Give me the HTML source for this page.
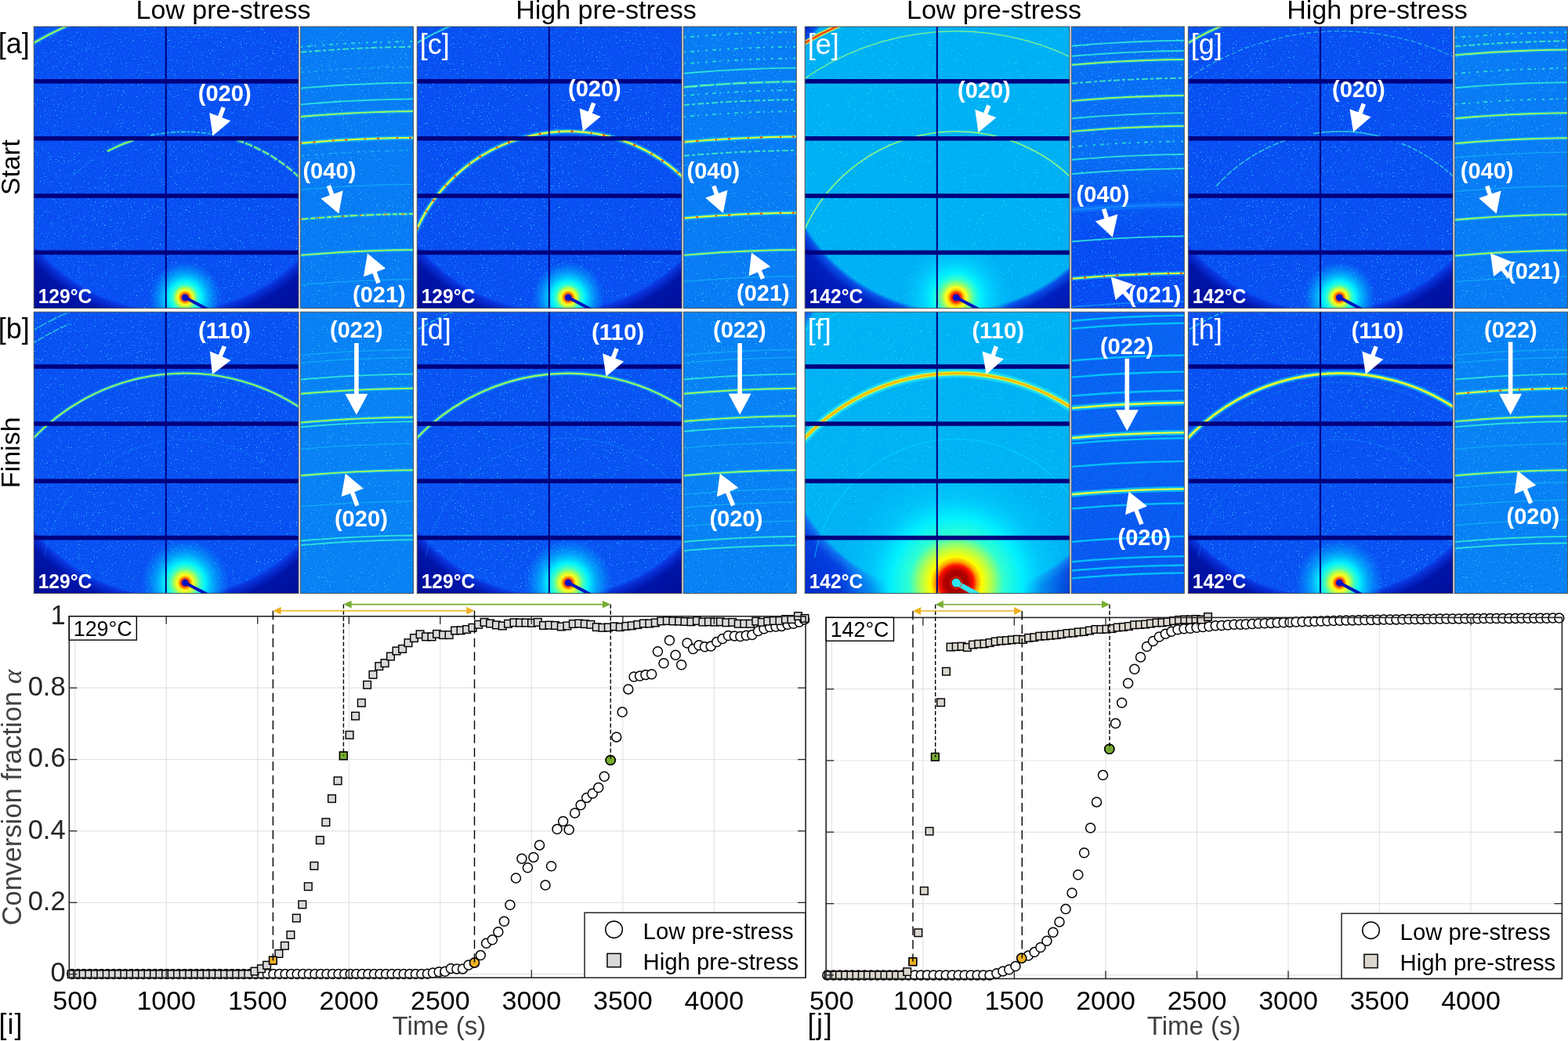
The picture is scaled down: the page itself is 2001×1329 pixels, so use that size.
<!DOCTYPE html><html><head><meta charset="utf-8"><style>html,body{margin:0;padding:0;background:#fff;overflow:hidden}svg{display:block}</style></head><body>
<svg xmlns="http://www.w3.org/2000/svg" width="2001" height="1329" viewBox="0 0 2001 1329" font-family="'Liberation Sans', Arial, sans-serif">
<defs><filter id="mottle" x="0" y="0" width="100%" height="100%" filterUnits="objectBoundingBox"><feTurbulence type="fractalNoise" baseFrequency="0.55" numOctaves="1" seed="3" result="t"/><feColorMatrix in="t" type="matrix" values="0 0 0 0 0.0  0 0 0 0 0.75  0 0 0 0 1  1.6 0 0 0 -0.65"/></filter>
<filter id="noise" x="0" y="0" width="100%" height="100%" filterUnits="objectBoundingBox"><feTurbulence type="fractalNoise" baseFrequency="0.7" numOctaves="2" seed="7" result="t"/><feColorMatrix in="t" type="matrix" values="0 0 0 0 0.05  0 0 0 0 0.82  0 0 0 0 1  18 0 0 0 -13.0"/></filter>
<clipPath id="cba"><rect x="43.2" y="34.0" width="337.8" height="359.4"/></clipPath>
<radialGradient id="gaa" gradientUnits="userSpaceOnUse" cx="220.5" cy="170.6" r="300"><stop offset="0" stop-color="#0a48f2"/><stop offset="0.7533" stop-color="#0a48f2"/><stop offset="0.7700" stop-color="#0830d8"/><stop offset="0.8067" stop-color="#0014a8"/><stop offset="1" stop-color="#000a8c"/></radialGradient>
<radialGradient id="gha" gradientUnits="userSpaceOnUse" cx="236.2" cy="379.8" r="46"><stop offset="0.000" stop-color="#ff6000" stop-opacity="1"/><stop offset="0.120" stop-color="#ff6000" stop-opacity="1"/><stop offset="0.152" stop-color="#ffb000" stop-opacity="1"/><stop offset="0.196" stop-color="#ffff20" stop-opacity="1"/><stop offset="0.261" stop-color="#b0ff50" stop-opacity="1"/><stop offset="0.348" stop-color="#30ffd0" stop-opacity="1"/><stop offset="0.457" stop-color="#00f0ff" stop-opacity="1"/><stop offset="0.652" stop-color="#00c8ff" stop-opacity="0.7"/><stop offset="1.000" stop-color="#00a0ff" stop-opacity="0"/></radialGradient>
<clipPath id="cca"><circle cx="220.5" cy="170.6" r="227"/></clipPath>
<clipPath id="cna"><rect x="383.3" y="34.0" width="144.1" height="359.4"/></clipPath>
<clipPath id="cbc"><rect x="532.2" y="34.0" width="337.8" height="359.4"/></clipPath>
<radialGradient id="gac" gradientUnits="userSpaceOnUse" cx="709.5" cy="170.6" r="300"><stop offset="0" stop-color="#0a48f2"/><stop offset="0.7533" stop-color="#0a48f2"/><stop offset="0.7700" stop-color="#0830d8"/><stop offset="0.8067" stop-color="#0014a8"/><stop offset="1" stop-color="#000a8c"/></radialGradient>
<radialGradient id="ghc" gradientUnits="userSpaceOnUse" cx="725.2" cy="379.8" r="46"><stop offset="0.000" stop-color="#ff6000" stop-opacity="1"/><stop offset="0.120" stop-color="#ff6000" stop-opacity="1"/><stop offset="0.152" stop-color="#ffb000" stop-opacity="1"/><stop offset="0.196" stop-color="#ffff20" stop-opacity="1"/><stop offset="0.261" stop-color="#b0ff50" stop-opacity="1"/><stop offset="0.348" stop-color="#30ffd0" stop-opacity="1"/><stop offset="0.457" stop-color="#00f0ff" stop-opacity="1"/><stop offset="0.652" stop-color="#00c8ff" stop-opacity="0.7"/><stop offset="1.000" stop-color="#00a0ff" stop-opacity="0"/></radialGradient>
<clipPath id="ccc"><circle cx="709.5" cy="170.6" r="227"/></clipPath>
<clipPath id="cnc"><rect x="872.2" y="34.0" width="144.1" height="359.4"/></clipPath>
<clipPath id="cbe"><rect x="1027.2" y="34.0" width="337.8" height="359.4"/></clipPath>
<radialGradient id="gae" gradientUnits="userSpaceOnUse" cx="1217.4" cy="175.3" r="294.5"><stop offset="0" stop-color="#00aef4"/><stop offset="0.7487" stop-color="#00aef4"/><stop offset="0.7657" stop-color="#0850e8"/><stop offset="0.8031" stop-color="#0020c0"/><stop offset="1" stop-color="#000c98"/></radialGradient>
<radialGradient id="ghe" gradientUnits="userSpaceOnUse" cx="1220.2" cy="379.8" r="70"><stop offset="0.000" stop-color="#ff1000" stop-opacity="1"/><stop offset="0.071" stop-color="#ff1000" stop-opacity="1"/><stop offset="0.107" stop-color="#ff6000" stop-opacity="1"/><stop offset="0.143" stop-color="#ffd000" stop-opacity="1"/><stop offset="0.186" stop-color="#ffff20" stop-opacity="1"/><stop offset="0.243" stop-color="#a0ff60" stop-opacity="1"/><stop offset="0.343" stop-color="#30ffd0" stop-opacity="1"/><stop offset="0.457" stop-color="#00f0ff" stop-opacity="1"/><stop offset="0.643" stop-color="#00d8ff" stop-opacity="0.7"/><stop offset="1.000" stop-color="#00c0ff" stop-opacity="0"/></radialGradient>
<clipPath id="cce"><circle cx="1217.4" cy="175.3" r="221.5"/></clipPath>
<clipPath id="cne"><rect x="1367.2" y="34.0" width="144.1" height="359.4"/></clipPath>
<linearGradient id="gne" x1="0" y1="0" x2="0" y2="1"><stop offset="0" stop-color="#0a68f4"/><stop offset="0.45" stop-color="#0a68f4"/><stop offset="0.75" stop-color="#0844f2"/><stop offset="1" stop-color="#0844f2"/></linearGradient>
<clipPath id="cbg"><rect x="1516.3" y="34.0" width="337.8" height="359.4"/></clipPath>
<radialGradient id="gag" gradientUnits="userSpaceOnUse" cx="1693.6" cy="170.6" r="300"><stop offset="0" stop-color="#0a48f2"/><stop offset="0.7533" stop-color="#0a48f2"/><stop offset="0.7700" stop-color="#0830d8"/><stop offset="0.8067" stop-color="#0014a8"/><stop offset="1" stop-color="#000a8c"/></radialGradient>
<radialGradient id="ghg" gradientUnits="userSpaceOnUse" cx="1709.3" cy="379.8" r="46"><stop offset="0.000" stop-color="#ff6000" stop-opacity="1"/><stop offset="0.120" stop-color="#ff6000" stop-opacity="1"/><stop offset="0.152" stop-color="#ffb000" stop-opacity="1"/><stop offset="0.196" stop-color="#ffff20" stop-opacity="1"/><stop offset="0.261" stop-color="#b0ff50" stop-opacity="1"/><stop offset="0.348" stop-color="#30ffd0" stop-opacity="1"/><stop offset="0.457" stop-color="#00f0ff" stop-opacity="1"/><stop offset="0.652" stop-color="#00c8ff" stop-opacity="0.7"/><stop offset="1.000" stop-color="#00a0ff" stop-opacity="0"/></radialGradient>
<clipPath id="ccg"><circle cx="1693.6" cy="170.6" r="227"/></clipPath>
<clipPath id="cng"><rect x="1856.3" y="34.0" width="144.1" height="359.4"/></clipPath>
<clipPath id="cbb"><rect x="43.2" y="398.2" width="337.8" height="359.4"/></clipPath>
<radialGradient id="gab" gradientUnits="userSpaceOnUse" cx="220.5" cy="534.8" r="300"><stop offset="0" stop-color="#0a4af2"/><stop offset="0.7533" stop-color="#0a4af2"/><stop offset="0.7700" stop-color="#0830d8"/><stop offset="0.8067" stop-color="#0014a8"/><stop offset="1" stop-color="#000a8c"/></radialGradient>
<radialGradient id="ghb" gradientUnits="userSpaceOnUse" cx="236.2" cy="744.0" r="56"><stop offset="0.000" stop-color="#ff4000" stop-opacity="1"/><stop offset="0.098" stop-color="#ff4000" stop-opacity="1"/><stop offset="0.134" stop-color="#ffb000" stop-opacity="1"/><stop offset="0.179" stop-color="#ffff20" stop-opacity="1"/><stop offset="0.250" stop-color="#b0ff50" stop-opacity="1"/><stop offset="0.339" stop-color="#40ffc0" stop-opacity="1"/><stop offset="0.464" stop-color="#00f0ff" stop-opacity="1"/><stop offset="0.643" stop-color="#00c8ff" stop-opacity="0.7"/><stop offset="1.000" stop-color="#00a0ff" stop-opacity="0"/></radialGradient>
<clipPath id="ccb"><circle cx="220.5" cy="534.8" r="227"/></clipPath>
<clipPath id="cnb"><rect x="383.3" y="398.2" width="144.1" height="359.4"/></clipPath>
<clipPath id="cbd"><rect x="532.2" y="398.2" width="337.8" height="359.4"/></clipPath>
<radialGradient id="gad" gradientUnits="userSpaceOnUse" cx="709.5" cy="534.8" r="300"><stop offset="0" stop-color="#0a4cf2"/><stop offset="0.7533" stop-color="#0a4cf2"/><stop offset="0.7700" stop-color="#0830d8"/><stop offset="0.8067" stop-color="#0014a8"/><stop offset="1" stop-color="#000a8c"/></radialGradient>
<radialGradient id="ghd" gradientUnits="userSpaceOnUse" cx="725.2" cy="744.0" r="56"><stop offset="0.000" stop-color="#ff4000" stop-opacity="1"/><stop offset="0.098" stop-color="#ff4000" stop-opacity="1"/><stop offset="0.134" stop-color="#ffb000" stop-opacity="1"/><stop offset="0.179" stop-color="#ffff20" stop-opacity="1"/><stop offset="0.250" stop-color="#b0ff50" stop-opacity="1"/><stop offset="0.339" stop-color="#40ffc0" stop-opacity="1"/><stop offset="0.464" stop-color="#00f0ff" stop-opacity="1"/><stop offset="0.643" stop-color="#00c8ff" stop-opacity="0.7"/><stop offset="1.000" stop-color="#00a0ff" stop-opacity="0"/></radialGradient>
<clipPath id="ccd"><circle cx="709.5" cy="534.8" r="227"/></clipPath>
<clipPath id="cnd"><rect x="872.2" y="398.2" width="144.1" height="359.4"/></clipPath>
<clipPath id="cbf"><rect x="1027.2" y="398.2" width="337.8" height="359.4"/></clipPath>
<radialGradient id="gaf" gradientUnits="userSpaceOnUse" cx="1219.4" cy="535.1" r="298.6"><stop offset="0" stop-color="#00b0f4"/><stop offset="0.7522" stop-color="#00b0f4"/><stop offset="0.7689" stop-color="#1070f0"/><stop offset="0.8058" stop-color="#0440e0"/><stop offset="1" stop-color="#0028c8"/></radialGradient>
<radialGradient id="ghf" gradientUnits="userSpaceOnUse" cx="1220.2" cy="744.0" r="150"><stop offset="0.000" stop-color="#900000" stop-opacity="1"/><stop offset="0.100" stop-color="#b00000" stop-opacity="1"/><stop offset="0.147" stop-color="#ff1000" stop-opacity="1"/><stop offset="0.180" stop-color="#ffa000" stop-opacity="1"/><stop offset="0.220" stop-color="#ffff00" stop-opacity="1"/><stop offset="0.300" stop-color="#b0ff50" stop-opacity="1"/><stop offset="0.400" stop-color="#30ffd0" stop-opacity="1"/><stop offset="0.560" stop-color="#00f0ff" stop-opacity="1"/><stop offset="0.733" stop-color="#00d8ff" stop-opacity="0.5"/><stop offset="1.000" stop-color="#00c8ff" stop-opacity="0"/></radialGradient>
<clipPath id="ccf"><circle cx="1219.4" cy="535.1" r="225.6"/></clipPath>
<clipPath id="cnf"><rect x="1367.2" y="398.2" width="144.1" height="359.4"/></clipPath>
<linearGradient id="gnf" x1="0" y1="0" x2="0" y2="1"><stop offset="0" stop-color="#0a5cf2"/><stop offset="0.45" stop-color="#0a5cf2"/><stop offset="0.75" stop-color="#0a52f0"/><stop offset="1" stop-color="#0a52f0"/></linearGradient>
<clipPath id="cbh"><rect x="1516.3" y="398.2" width="337.8" height="359.4"/></clipPath>
<radialGradient id="gah" gradientUnits="userSpaceOnUse" cx="1693.6" cy="534.8" r="300"><stop offset="0" stop-color="#0a4af2"/><stop offset="0.7533" stop-color="#0a4af2"/><stop offset="0.7700" stop-color="#0830d8"/><stop offset="0.8067" stop-color="#0014a8"/><stop offset="1" stop-color="#000a8c"/></radialGradient>
<radialGradient id="ghh" gradientUnits="userSpaceOnUse" cx="1709.3" cy="744.0" r="56"><stop offset="0.000" stop-color="#ff4000" stop-opacity="1"/><stop offset="0.098" stop-color="#ff4000" stop-opacity="1"/><stop offset="0.134" stop-color="#ffb000" stop-opacity="1"/><stop offset="0.179" stop-color="#ffff20" stop-opacity="1"/><stop offset="0.250" stop-color="#b0ff50" stop-opacity="1"/><stop offset="0.339" stop-color="#40ffc0" stop-opacity="1"/><stop offset="0.464" stop-color="#00f0ff" stop-opacity="1"/><stop offset="0.643" stop-color="#00c8ff" stop-opacity="0.7"/><stop offset="1.000" stop-color="#00a0ff" stop-opacity="0"/></radialGradient>
<clipPath id="cch"><circle cx="1693.6" cy="534.8" r="227"/></clipPath>
<clipPath id="cnh"><rect x="1856.3" y="398.2" width="144.1" height="359.4"/></clipPath></defs>
<rect width="2001" height="1329" fill="#ffffff"/>
<text x="285.0" y="24.4" font-size="34" text-anchor="middle" fill="#000">Low pre-stress</text>
<text x="773.5" y="24.4" font-size="34" text-anchor="middle" fill="#000">High pre-stress</text>
<text x="1268.5" y="24.4" font-size="34" text-anchor="middle" fill="#000">Low pre-stress</text>
<text x="1757.5" y="24.4" font-size="34" text-anchor="middle" fill="#000">High pre-stress</text>
<text x="-2.3" y="67.9" font-size="36" fill="#000">[a]</text>
<text x="-2.3" y="432.3" font-size="36" fill="#000">[b]</text>
<text transform="translate(24.6,213.5) rotate(-90)" font-size="33.5" text-anchor="middle" fill="#000">Start</text>
<text transform="translate(24.6,577.8) rotate(-90)" font-size="34" text-anchor="middle" fill="#000">Finish</text>
<g clip-path="url(#cba)">
<rect x="43.2" y="34.0" width="337.8" height="359.4" fill="url(#gaa)"/>
<g clip-path="url(#cca)"><rect x="43.2" y="34.0" width="337.8" height="359.4" filter="url(#mottle)" opacity="0.35"/><rect x="43.2" y="34.0" width="337.8" height="359.4" filter="url(#noise)" opacity="0.8"/></g>
<circle cx="236.2" cy="379.8" r="46.0" fill="url(#gha)"/>
<path d="M192.2,172.9 A211.5,211.5 0 0 1 272.9,171.5" fill="none" stroke="#30f0d8" stroke-width="1.73" opacity="0.77" stroke-dasharray="6,2,3,2"/>
<path d="M136.9,193.1 A211.5,211.5 0 0 1 170.8,178.7" fill="none" stroke="#00e0ff" stroke-width="4.91" opacity="0.38"/>
<path d="M136.9,193.1 A211.5,211.5 0 0 1 170.8,178.7" fill="none" stroke="#a8ff58" stroke-width="2.07" opacity="0.90"/>
<path d="M301.6,178.7 A211.5,211.5 0 0 1 385.8,230.2" fill="none" stroke="#00e0ff" stroke-width="4.50" opacity="0.36" stroke-dasharray="10,2"/>
<path d="M301.6,178.7 A211.5,211.5 0 0 1 385.8,230.2" fill="none" stroke="#a8ff58" stroke-width="1.90" opacity="0.85" stroke-dasharray="10,2"/>
<path d="M92.0,225.1 A211.5,211.5 0 0 1 117.9,204.5" fill="none" stroke="#18c8f8" stroke-width="1.09" opacity="0.30"/>
<path d="M36.4,104.7 A340,340 0 0 1 390.6,76.9" fill="none" stroke="#18c8f8" stroke-width="0.95" opacity="0.28" stroke-dasharray="5,4"/>
<path d="M35.9,59.2 A378,378 0 0 1 88.5,31.8" fill="none" stroke="#00e0ff" stroke-width="5.32" opacity="0.38"/>
<path d="M35.9,59.2 A378,378 0 0 1 88.5,31.8" fill="none" stroke="#a8ff58" stroke-width="2.25" opacity="0.90"/>
<rect x="43.2" y="101.0" width="337.8" height="5.6" fill="#00007e"/>
<rect x="43.2" y="174.0" width="337.8" height="5.6" fill="#00007e"/>
<rect x="43.2" y="247.2" width="337.8" height="5.6" fill="#00007e"/>
<rect x="43.2" y="319.6" width="337.8" height="5.6" fill="#00007e"/>
<rect x="210.8" y="34.0" width="2" height="359.4" fill="#00007e"/>
<line x1="236.2" y1="379.8" x2="276.2" y2="400.8" stroke="#0014c0" stroke-width="4.0"/>
<circle cx="236.2" cy="379.8" r="4.4" fill="#0014c0"/>
</g>
<rect x="43.2" y="34.0" width="337.8" height="359.4" fill="none" stroke="#404040" stroke-width="0.9"/>
<text x="48.7" y="387.2" font-size="26.5" font-weight="bold" fill="#fff" textLength="68.5" lengthAdjust="spacingAndGlyphs">129°C</text>
<g clip-path="url(#cna)">
<rect x="383.3" y="34.0" width="144.1" height="359.4" fill="#0a76f4"/>
<rect x="383.3" y="34.0" width="144.1" height="359.4" filter="url(#mottle)" opacity="0.35"/>
<rect x="383.3" y="34.0" width="144.1" height="359.4" filter="url(#noise)" opacity="0.8"/>
<polyline points="383.3,59.9 395.3,58.9 407.3,58.0 419.3,57.1 431.3,56.3 443.3,55.6 455.4,55.0 467.4,54.5 479.4,54.0 491.4,53.6 503.4,53.3 515.4,53.1 527.4,52.9" fill="none" stroke="#30f0d0" stroke-width="2.0" opacity="0.75" stroke-dasharray="3,6,5,4,2,8"/>
<polyline points="383.3,66.7 395.3,65.7 407.3,64.8 419.3,63.9 431.3,63.1 443.3,62.4 455.4,61.8 467.4,61.3 479.4,60.8 491.4,60.4 503.4,60.1 515.4,59.9 527.4,59.7" fill="none" stroke="#40f0c0" stroke-width="2.0" opacity="0.85" stroke-dasharray="8,3,4,3"/>
<polyline points="383.3,92.3 395.3,91.3 407.3,90.4 419.3,89.5 431.3,88.7 443.3,88.0 455.4,87.4 467.4,86.9 479.4,86.4 491.4,86.0 503.4,85.7 515.4,85.5 527.4,85.3" fill="none" stroke="#20d0f0" stroke-width="1.7" opacity="0.55" stroke-dasharray="5,4,3,6"/>
<polyline points="383.3,112.6 395.3,111.6 407.3,110.7 419.3,109.8 431.3,109.0 443.3,108.3 455.4,107.7 467.4,107.2 479.4,106.7 491.4,106.3 503.4,106.0 515.4,105.8 527.4,105.6" fill="none" stroke="#30f0d8" stroke-width="1.9" opacity="0.85"/>
<polyline points="383.3,133.4 395.3,132.4 407.3,131.5 419.3,130.6 431.3,129.8 443.3,129.1 455.4,128.5 467.4,128.0 479.4,127.5 491.4,127.1 503.4,126.8 515.4,126.6 527.4,126.4" fill="none" stroke="#30f0d8" stroke-width="1.9" opacity="0.85"/>
<polyline points="383.3,149.0 395.3,148.0 407.3,147.1 419.3,146.2 431.3,145.4 443.3,144.7 455.4,144.1 467.4,143.6 479.4,143.1 491.4,142.7 503.4,142.4 515.4,142.2 527.4,142.0" fill="none" stroke="#00e0ff" stroke-width="4.5" opacity="0.4"/>
<polyline points="383.3,149.0 395.3,148.0 407.3,147.1 419.3,146.2 431.3,145.4 443.3,144.7 455.4,144.1 467.4,143.6 479.4,143.1 491.4,142.7 503.4,142.4 515.4,142.2 527.4,142.0" fill="none" stroke="#a8ff58" stroke-width="1.9" opacity="0.95"/>
<polyline points="383.3,182.8 395.3,181.8 407.3,180.9 419.3,180.0 431.3,179.2 443.3,178.5 455.4,177.9 467.4,177.4 479.4,176.9 491.4,176.5 503.4,176.2 515.4,176.0 527.4,175.8" fill="none" stroke="#00e8ff" stroke-width="5.5" opacity="0.45"/>
<polyline points="383.3,182.8 395.3,181.8 407.3,180.9 419.3,180.0 431.3,179.2 443.3,178.5 455.4,177.9 467.4,177.4 479.4,176.9 491.4,176.5 503.4,176.2 515.4,176.0 527.4,175.8" fill="none" stroke="#d8ff40" stroke-width="2.2" opacity="1.0"/>
<polyline points="383.3,182.8 395.3,181.8 407.3,180.9 419.3,180.0 431.3,179.2 443.3,178.5 455.4,177.9 467.4,177.4 479.4,176.9 491.4,176.5 503.4,176.2 515.4,176.0 527.4,175.8" fill="none" stroke="#ff3a00" stroke-width="2.2" opacity="0.9" stroke-dasharray="2,14,3,22"/>
<polyline points="383.3,199.0 395.3,198.0 407.3,197.1 419.3,196.2 431.3,195.4 443.3,194.7 455.4,194.1 467.4,193.6 479.4,193.1 491.4,192.7 503.4,192.4 515.4,192.2 527.4,192.0" fill="none" stroke="#20d0f0" stroke-width="1.7" opacity="0.55" stroke-dasharray="5,4,3,6"/>
<polyline points="383.3,242.2 395.3,241.2 407.3,240.3 419.3,239.4 431.3,238.6 443.3,237.9 455.4,237.3 467.4,236.8 479.4,236.3 491.4,235.9 503.4,235.6 515.4,235.4 527.4,235.2" fill="none" stroke="#18c8f8" stroke-width="1.5" opacity="0.5"/>
<polyline points="383.3,280.0 395.3,279.0 407.3,278.1 419.3,277.2 431.3,276.4 443.3,275.7 455.4,275.1 467.4,274.6 479.4,274.1 491.4,273.7 503.4,273.4 515.4,273.2 527.4,273.0" fill="none" stroke="#00e0ff" stroke-width="4.5" opacity="0.35"/>
<polyline points="383.3,280.0 395.3,279.0 407.3,278.1 419.3,277.2 431.3,276.4 443.3,275.7 455.4,275.1 467.4,274.6 479.4,274.1 491.4,273.7 503.4,273.4 515.4,273.2 527.4,273.0" fill="none" stroke="#a8ff58" stroke-width="1.9" opacity="0.95" stroke-dasharray="10,3,6,2"/>
<polyline points="383.3,280.0 395.3,279.0 407.3,278.1 419.3,277.2 431.3,276.4 443.3,275.7 455.4,275.1 467.4,274.6 479.4,274.1 491.4,273.7 503.4,273.4 515.4,273.2 527.4,273.0" fill="none" stroke="#ff4000" stroke-width="2.0" opacity="0.8" stroke-dasharray="2,20,2,30"/>
<polyline points="383.3,325.9 395.3,324.9 407.3,324.0 419.3,323.1 431.3,322.3 443.3,321.6 455.4,321.0 467.4,320.5 479.4,320.0 491.4,319.6 503.4,319.3 515.4,319.1 527.4,318.9" fill="none" stroke="#00e0ff" stroke-width="4.5" opacity="0.4"/>
<polyline points="383.3,325.9 395.3,324.9 407.3,324.0 419.3,323.1 431.3,322.3 443.3,321.6 455.4,321.0 467.4,320.5 479.4,320.0 491.4,319.6 503.4,319.3 515.4,319.1 527.4,318.9" fill="none" stroke="#a8ff58" stroke-width="1.9" opacity="0.95"/>
<polyline points="383.3,363.7 395.3,362.7 407.3,361.8 419.3,360.9 431.3,360.1 443.3,359.4 455.4,358.8 467.4,358.3 479.4,357.8 491.4,357.4 503.4,357.1 515.4,356.9 527.4,356.7" fill="none" stroke="#18c8f8" stroke-width="1.5" opacity="0.5"/>
</g>
<rect x="383.3" y="34.0" width="144.1" height="359.4" fill="none" stroke="#404040" stroke-width="0.9"/>
<g clip-path="url(#cbc)">
<rect x="532.2" y="34.0" width="337.8" height="359.4" fill="url(#gac)"/>
<g clip-path="url(#ccc)"><rect x="532.2" y="34.0" width="337.8" height="359.4" filter="url(#mottle)" opacity="0.35"/><rect x="532.2" y="34.0" width="337.8" height="359.4" filter="url(#noise)" opacity="0.8"/></g>
<circle cx="725.2" cy="379.8" r="46.0" fill="url(#ghc)"/>
<path d="M526.0,307.3 A212,212 0 0 1 877.7,232.5" fill="none" stroke="#00e8ff" stroke-width="6.50" opacity="0.45"/>
<path d="M526.0,307.3 A212,212 0 0 1 877.7,232.5" fill="none" stroke="#d8ff40" stroke-width="2.60" opacity="1.00"/>
<path d="M526.0,307.3 A212,212 0 0 1 877.7,232.5" fill="none" stroke="#ff3a00" stroke-width="2.60" opacity="0.90" stroke-dasharray="2,14,3,22"/>
<path d="M524.9,59.2 A378,378 0 0 1 577.5,31.8" fill="none" stroke="#30f0d8" stroke-width="2.25" opacity="0.77"/>
<path d="M525.4,104.7 A340,340 0 0 1 879.6,76.9" fill="none" stroke="#18c8f8" stroke-width="0.95" opacity="0.17" stroke-dasharray="4,9"/>
<rect x="532.2" y="101.0" width="337.8" height="5.6" fill="#00007e"/>
<rect x="532.2" y="174.0" width="337.8" height="5.6" fill="#00007e"/>
<rect x="532.2" y="247.2" width="337.8" height="5.6" fill="#00007e"/>
<rect x="532.2" y="319.6" width="337.8" height="5.6" fill="#00007e"/>
<rect x="699.8" y="34.0" width="2" height="359.4" fill="#00007e"/>
<line x1="725.2" y1="379.8" x2="765.2" y2="400.8" stroke="#0014c0" stroke-width="4.0"/>
<circle cx="725.2" cy="379.8" r="4.4" fill="#0014c0"/>
</g>
<rect x="532.2" y="34.0" width="337.8" height="359.4" fill="none" stroke="#404040" stroke-width="0.9"/>
<text x="537.7" y="387.2" font-size="26.5" font-weight="bold" fill="#fff" textLength="68.5" lengthAdjust="spacingAndGlyphs">129°C</text>
<text x="535.7" y="68.5" font-size="36" fill="#fff">[c]</text>
<g clip-path="url(#cnc)">
<rect x="872.2" y="34.0" width="144.1" height="359.4" fill="#0a76f4"/>
<rect x="872.2" y="34.0" width="144.1" height="359.4" filter="url(#mottle)" opacity="0.35"/>
<rect x="872.2" y="34.0" width="144.1" height="359.4" filter="url(#noise)" opacity="0.8"/>
<polyline points="872.2,47.8 884.2,46.8 896.2,45.9 908.2,45.0 920.2,44.2 932.2,43.5 944.2,42.9 956.3,42.4 968.3,41.9 980.3,41.5 992.3,41.2 1004.3,41.0 1016.3,40.8" fill="none" stroke="#30f0d0" stroke-width="2.0" opacity="0.75" stroke-dasharray="3,6,5,4,2,8"/>
<polyline points="872.2,66.7 884.2,65.7 896.2,64.8 908.2,63.9 920.2,63.1 932.2,62.4 944.2,61.8 956.3,61.3 968.3,60.8 980.3,60.4 992.3,60.1 1004.3,59.9 1016.3,59.7" fill="none" stroke="#30f0d0" stroke-width="2.0" opacity="0.75" stroke-dasharray="3,6,5,4,2,8"/>
<polyline points="872.2,81.5 884.2,80.5 896.2,79.6 908.2,78.7 920.2,77.9 932.2,77.2 944.2,76.6 956.3,76.1 968.3,75.6 980.3,75.2 992.3,74.9 1004.3,74.7 1016.3,74.5" fill="none" stroke="#30f0d0" stroke-width="2.0" opacity="0.75" stroke-dasharray="3,6,5,4,2,8"/>
<polyline points="872.2,93.7 884.2,92.7 896.2,91.8 908.2,90.9 920.2,90.1 932.2,89.4 944.2,88.8 956.3,88.3 968.3,87.8 980.3,87.4 992.3,87.1 1004.3,86.9 1016.3,86.7" fill="none" stroke="#30f0d8" stroke-width="1.9" opacity="0.85"/>
<polyline points="872.2,111.2 884.2,110.2 896.2,109.3 908.2,108.4 920.2,107.6 932.2,106.9 944.2,106.3 956.3,105.8 968.3,105.3 980.3,104.9 992.3,104.6 1004.3,104.4 1016.3,104.2" fill="none" stroke="#00e0ff" stroke-width="4.0" opacity="0.35"/>
<polyline points="872.2,111.2 884.2,110.2 896.2,109.3 908.2,108.4 920.2,107.6 932.2,106.9 944.2,106.3 956.3,105.8 968.3,105.3 980.3,104.9 992.3,104.6 1004.3,104.4 1016.3,104.2" fill="none" stroke="#70f8a0" stroke-width="1.9" opacity="0.95" stroke-dasharray="18,3"/>
<polyline points="872.2,122.0 884.2,121.0 896.2,120.1 908.2,119.2 920.2,118.4 932.2,117.7 944.2,117.1 956.3,116.6 968.3,116.1 980.3,115.7 992.3,115.4 1004.3,115.2 1016.3,115.0" fill="none" stroke="#30f0d0" stroke-width="2.0" opacity="0.75" stroke-dasharray="3,6,5,4,2,8"/>
<polyline points="872.2,134.2 884.2,133.2 896.2,132.3 908.2,131.4 920.2,130.6 932.2,129.9 944.2,129.3 956.3,128.8 968.3,128.3 980.3,127.9 992.3,127.6 1004.3,127.4 1016.3,127.2" fill="none" stroke="#40f0c0" stroke-width="2.0" opacity="0.85" stroke-dasharray="8,3,4,3"/>
<polyline points="872.2,149.0 884.2,148.0 896.2,147.1 908.2,146.2 920.2,145.4 932.2,144.7 944.2,144.1 956.3,143.6 968.3,143.1 980.3,142.7 992.3,142.4 1004.3,142.2 1016.3,142.0" fill="none" stroke="#30f0d0" stroke-width="2.0" opacity="0.75" stroke-dasharray="3,6,5,4,2,8"/>
<polyline points="872.2,181.4 884.2,180.4 896.2,179.5 908.2,178.6 920.2,177.8 932.2,177.1 944.2,176.5 956.3,176.0 968.3,175.5 980.3,175.1 992.3,174.8 1004.3,174.6 1016.3,174.4" fill="none" stroke="#00e8ff" stroke-width="5.5" opacity="0.45"/>
<polyline points="872.2,181.4 884.2,180.4 896.2,179.5 908.2,178.6 920.2,177.8 932.2,177.1 944.2,176.5 956.3,176.0 968.3,175.5 980.3,175.1 992.3,174.8 1004.3,174.6 1016.3,174.4" fill="none" stroke="#d8ff40" stroke-width="2.2" opacity="1.0"/>
<polyline points="872.2,181.4 884.2,180.4 896.2,179.5 908.2,178.6 920.2,177.8 932.2,177.1 944.2,176.5 956.3,176.0 968.3,175.5 980.3,175.1 992.3,174.8 1004.3,174.6 1016.3,174.4" fill="none" stroke="#ff3a00" stroke-width="2.2" opacity="0.9" stroke-dasharray="2,14,3,22"/>
<polyline points="872.2,199.0 884.2,198.0 896.2,197.1 908.2,196.2 920.2,195.4 932.2,194.7 944.2,194.1 956.3,193.6 968.3,193.1 980.3,192.7 992.3,192.4 1004.3,192.2 1016.3,192.0" fill="none" stroke="#40f0c0" stroke-width="2.0" opacity="0.85" stroke-dasharray="8,3,4,3"/>
<polyline points="872.2,278.6 884.2,277.6 896.2,276.7 908.2,275.8 920.2,275.0 932.2,274.3 944.2,273.7 956.3,273.2 968.3,272.7 980.3,272.3 992.3,272.0 1004.3,271.8 1016.3,271.6" fill="none" stroke="#00e8ff" stroke-width="5.5" opacity="0.45"/>
<polyline points="872.2,278.6 884.2,277.6 896.2,276.7 908.2,275.8 920.2,275.0 932.2,274.3 944.2,273.7 956.3,273.2 968.3,272.7 980.3,272.3 992.3,272.0 1004.3,271.8 1016.3,271.6" fill="none" stroke="#d8ff40" stroke-width="2.2" opacity="1.0"/>
<polyline points="872.2,278.6 884.2,277.6 896.2,276.7 908.2,275.8 920.2,275.0 932.2,274.3 944.2,273.7 956.3,273.2 968.3,272.7 980.3,272.3 992.3,272.0 1004.3,271.8 1016.3,271.6" fill="none" stroke="#ff3a00" stroke-width="2.2" opacity="0.9" stroke-dasharray="2,14,3,22"/>
<polyline points="872.2,325.9 884.2,324.9 896.2,324.0 908.2,323.1 920.2,322.3 932.2,321.6 944.2,321.0 956.3,320.5 968.3,320.0 980.3,319.6 992.3,319.3 1004.3,319.1 1016.3,318.9" fill="none" stroke="#00e0ff" stroke-width="4.5" opacity="0.4"/>
<polyline points="872.2,325.9 884.2,324.9 896.2,324.0 908.2,323.1 920.2,322.3 932.2,321.6 944.2,321.0 956.3,320.5 968.3,320.0 980.3,319.6 992.3,319.3 1004.3,319.1 1016.3,318.9" fill="none" stroke="#a8ff58" stroke-width="1.9" opacity="0.95"/>
<polyline points="872.2,359.7 884.2,358.7 896.2,357.8 908.2,356.9 920.2,356.1 932.2,355.4 944.2,354.8 956.3,354.3 968.3,353.8 980.3,353.4 992.3,353.1 1004.3,352.9 1016.3,352.7" fill="none" stroke="#18c8f8" stroke-width="1.5" opacity="0.5"/>
</g>
<rect x="872.2" y="34.0" width="144.1" height="359.4" fill="none" stroke="#404040" stroke-width="0.9"/>
<g clip-path="url(#cbe)">
<rect x="1027.2" y="34.0" width="337.8" height="359.4" fill="url(#gae)"/>
<g clip-path="url(#cce)"><rect x="1027.2" y="34.0" width="337.8" height="359.4" filter="url(#mottle)" opacity="0.35"/><rect x="1027.2" y="34.0" width="337.8" height="359.4" filter="url(#noise)" opacity="0.8"/></g>
<circle cx="1220.2" cy="379.8" r="70.0" fill="url(#ghe)"/>
<path d="M1021.0,307.3 A212,212 0 0 1 1372.7,232.5" fill="none" stroke="#00f0ff" stroke-width="2.62" opacity="0.47"/>
<path d="M1021.0,307.3 A212,212 0 0 1 1372.7,232.5" fill="none" stroke="#e0ff40" stroke-width="1.02" opacity="0.95"/>
<path d="M1020.4,104.7 A340,340 0 0 1 1374.6,76.9" fill="none" stroke="#00f0ff" stroke-width="2.29" opacity="0.42"/>
<path d="M1020.4,104.7 A340,340 0 0 1 1374.6,76.9" fill="none" stroke="#e0ff40" stroke-width="0.89" opacity="0.85"/>
<path d="M1019.9,59.2 A378,378 0 0 1 1072.5,31.8" fill="none" stroke="#f0ff40" stroke-width="5.91" opacity="0.76"/>
<path d="M1019.9,59.2 A378,378 0 0 1 1072.5,31.8" fill="none" stroke="#ff4000" stroke-width="2.60" opacity="0.95"/>
<rect x="1027.2" y="101.0" width="337.8" height="5.6" fill="#00007e"/>
<rect x="1027.2" y="174.0" width="337.8" height="5.6" fill="#00007e"/>
<rect x="1027.2" y="247.2" width="337.8" height="5.6" fill="#00007e"/>
<rect x="1027.2" y="319.6" width="337.8" height="5.6" fill="#00007e"/>
<rect x="1194.8" y="34.0" width="2" height="359.4" fill="#00007e"/>
<line x1="1220.2" y1="379.8" x2="1260.2" y2="400.8" stroke="#0014c0" stroke-width="4.0"/>
<circle cx="1220.2" cy="379.8" r="4.4" fill="#0014c0"/>
</g>
<rect x="1027.2" y="34.0" width="337.8" height="359.4" fill="none" stroke="#404040" stroke-width="0.9"/>
<text x="1032.7" y="387.2" font-size="26.5" font-weight="bold" fill="#fff" textLength="68.5" lengthAdjust="spacingAndGlyphs">142°C</text>
<text x="1030.7" y="68.5" font-size="36" fill="#fff">[e]</text>
<g clip-path="url(#cne)">
<rect x="1367.2" y="34.0" width="144.1" height="359.4" fill="url(#gne)"/>
<rect x="1367.2" y="34.0" width="144.1" height="359.4" filter="url(#mottle)" opacity="0.35"/>
<rect x="1367.2" y="34.0" width="144.1" height="359.4" filter="url(#noise)" opacity="0.8"/>
<polyline points="1367.2,58.7 1379.2,57.7 1391.2,56.8 1403.2,55.9 1415.2,55.1 1427.2,54.4 1439.2,53.8 1451.3,53.3 1463.3,52.8 1475.3,52.4 1487.3,52.1 1499.3,51.9 1511.3,51.7" fill="none" stroke="#30f0d8" stroke-width="1.9" opacity="0.85"/>
<polyline points="1367.2,71.8 1379.2,70.8 1391.2,69.9 1403.2,69.0 1415.2,68.2 1427.2,67.5 1439.2,66.9 1451.3,66.4 1463.3,65.9 1475.3,65.5 1487.3,65.2 1499.3,65.0 1511.3,64.8" fill="none" stroke="#30f0d8" stroke-width="1.9" opacity="0.85"/>
<polyline points="1367.2,82.9 1379.2,81.9 1391.2,81.0 1403.2,80.1 1415.2,79.3 1427.2,78.6 1439.2,78.0 1451.3,77.5 1463.3,77.0 1475.3,76.6 1487.3,76.3 1499.3,76.1 1511.3,75.9" fill="none" stroke="#00e0ff" stroke-width="4.5" opacity="0.4"/>
<polyline points="1367.2,82.9 1379.2,81.9 1391.2,81.0 1403.2,80.1 1415.2,79.3 1427.2,78.6 1439.2,78.0 1451.3,77.5 1463.3,77.0 1475.3,76.6 1487.3,76.3 1499.3,76.1 1511.3,75.9" fill="none" stroke="#a8ff58" stroke-width="1.9" opacity="0.95"/>
<polyline points="1367.2,106.6 1379.2,105.6 1391.2,104.7 1403.2,103.8 1415.2,103.0 1427.2,102.3 1439.2,101.7 1451.3,101.2 1463.3,100.7 1475.3,100.3 1487.3,100.0 1499.3,99.8 1511.3,99.6" fill="none" stroke="#40f0c0" stroke-width="2.0" opacity="0.85" stroke-dasharray="8,3,4,3"/>
<polyline points="1367.2,128.9 1379.2,127.9 1391.2,127.0 1403.2,126.1 1415.2,125.3 1427.2,124.6 1439.2,124.0 1451.3,123.5 1463.3,123.0 1475.3,122.6 1487.3,122.3 1499.3,122.1 1511.3,121.9" fill="none" stroke="#00e0ff" stroke-width="4.5" opacity="0.4"/>
<polyline points="1367.2,128.9 1379.2,127.9 1391.2,127.0 1403.2,126.1 1415.2,125.3 1427.2,124.6 1439.2,124.0 1451.3,123.5 1463.3,123.0 1475.3,122.6 1487.3,122.3 1499.3,122.1 1511.3,121.9" fill="none" stroke="#a8ff58" stroke-width="1.9" opacity="0.95"/>
<polyline points="1367.2,151.2 1379.2,150.2 1391.2,149.3 1403.2,148.4 1415.2,147.6 1427.2,146.9 1439.2,146.3 1451.3,145.8 1463.3,145.3 1475.3,144.9 1487.3,144.6 1499.3,144.4 1511.3,144.2" fill="none" stroke="#30f0d8" stroke-width="1.9" opacity="0.85"/>
<polyline points="1367.2,167.9 1379.2,166.9 1391.2,166.0 1403.2,165.1 1415.2,164.3 1427.2,163.6 1439.2,163.0 1451.3,162.5 1463.3,162.0 1475.3,161.6 1487.3,161.3 1499.3,161.1 1511.3,160.9" fill="none" stroke="#00e0ff" stroke-width="4.5" opacity="0.4"/>
<polyline points="1367.2,167.9 1379.2,166.9 1391.2,166.0 1403.2,165.1 1415.2,164.3 1427.2,163.6 1439.2,163.0 1451.3,162.5 1463.3,162.0 1475.3,161.6 1487.3,161.3 1499.3,161.1 1511.3,160.9" fill="none" stroke="#a8ff58" stroke-width="1.9" opacity="0.95"/>
<polyline points="1367.2,187.4 1379.2,186.4 1391.2,185.5 1403.2,184.6 1415.2,183.8 1427.2,183.1 1439.2,182.5 1451.3,182.0 1463.3,181.5 1475.3,181.1 1487.3,180.8 1499.3,180.6 1511.3,180.4" fill="none" stroke="#30f0d0" stroke-width="2.0" opacity="0.75" stroke-dasharray="3,6,5,4,2,8"/>
<polyline points="1367.2,204.0 1379.2,203.0 1391.2,202.1 1403.2,201.2 1415.2,200.4 1427.2,199.7 1439.2,199.1 1451.3,198.6 1463.3,198.1 1475.3,197.7 1487.3,197.4 1499.3,197.2 1511.3,197.0" fill="none" stroke="#30f0d8" stroke-width="1.9" opacity="0.85"/>
<polyline points="1367.2,222.2 1379.2,221.2 1391.2,220.3 1403.2,219.4 1415.2,218.6 1427.2,217.9 1439.2,217.3 1451.3,216.8 1463.3,216.3 1475.3,215.9 1487.3,215.6 1499.3,215.4 1511.3,215.2" fill="none" stroke="#30f0d8" stroke-width="1.9" opacity="0.85"/>
<polyline points="1367.2,268.1 1379.2,267.1 1391.2,266.2 1403.2,265.3 1415.2,264.5 1427.2,263.8 1439.2,263.2 1451.3,262.7 1463.3,262.2 1475.3,261.8 1487.3,261.5 1499.3,261.3 1511.3,261.1" fill="none" stroke="#1080ff" stroke-width="8.0" opacity="0.5"/>
<polyline points="1367.2,268.1 1379.2,267.1 1391.2,266.2 1403.2,265.3 1415.2,264.5 1427.2,263.8 1439.2,263.2 1451.3,262.7 1463.3,262.2 1475.3,261.8 1487.3,261.5 1499.3,261.3 1511.3,261.1" fill="none" stroke="#18a0ff" stroke-width="2.0" opacity="0.5"/>
<polyline points="1367.2,308.5 1379.2,307.5 1391.2,306.6 1403.2,305.7 1415.2,304.9 1427.2,304.2 1439.2,303.6 1451.3,303.1 1463.3,302.6 1475.3,302.2 1487.3,301.9 1499.3,301.7 1511.3,301.5" fill="none" stroke="#30f0d8" stroke-width="1.9" opacity="0.85"/>
<polyline points="1367.2,355.8 1379.2,354.8 1391.2,353.9 1403.2,353.0 1415.2,352.2 1427.2,351.5 1439.2,350.9 1451.3,350.4 1463.3,349.9 1475.3,349.5 1487.3,349.2 1499.3,349.0 1511.3,348.8" fill="none" stroke="#00e8ff" stroke-width="5.5" opacity="0.45"/>
<polyline points="1367.2,355.8 1379.2,354.8 1391.2,353.9 1403.2,353.0 1415.2,352.2 1427.2,351.5 1439.2,350.9 1451.3,350.4 1463.3,349.9 1475.3,349.5 1487.3,349.2 1499.3,349.0 1511.3,348.8" fill="none" stroke="#d8ff40" stroke-width="2.2" opacity="1.0"/>
<polyline points="1367.2,355.8 1379.2,354.8 1391.2,353.9 1403.2,353.0 1415.2,352.2 1427.2,351.5 1439.2,350.9 1451.3,350.4 1463.3,349.9 1475.3,349.5 1487.3,349.2 1499.3,349.0 1511.3,348.8" fill="none" stroke="#ff3a00" stroke-width="2.2" opacity="0.9" stroke-dasharray="2,14,3,22"/>
<polyline points="1367.2,392.0 1379.2,391.0 1391.2,390.1 1403.2,389.2 1415.2,388.4 1427.2,387.7 1439.2,387.1 1451.3,386.6 1463.3,386.1 1475.3,385.7 1487.3,385.4 1499.3,385.2 1511.3,385.0" fill="none" stroke="#18c8f8" stroke-width="1.5" opacity="0.5"/>
</g>
<rect x="1367.2" y="34.0" width="144.1" height="359.4" fill="none" stroke="#404040" stroke-width="0.9"/>
<g clip-path="url(#cbg)">
<rect x="1516.3" y="34.0" width="337.8" height="359.4" fill="url(#gag)"/>
<g clip-path="url(#ccg)"><rect x="1516.3" y="34.0" width="337.8" height="359.4" filter="url(#mottle)" opacity="0.35"/><rect x="1516.3" y="34.0" width="337.8" height="359.4" filter="url(#noise)" opacity="0.8"/></g>
<circle cx="1709.3" cy="379.8" r="46.0" fill="url(#ghg)"/>
<path d="M1676.1,170.4 A212,212 0 0 1 1771.3,177.1" fill="none" stroke="#30f0d8" stroke-width="1.73" opacity="0.77"/>
<path d="M1551.8,237.9 A212,212 0 0 1 1658.0,174.1" fill="none" stroke="#30f0d8" stroke-width="1.55" opacity="0.72" stroke-dasharray="8,2"/>
<path d="M1788.7,183.2 A212,212 0 0 1 1856.6,227.3" fill="none" stroke="#30f0d8" stroke-width="1.55" opacity="0.72" stroke-dasharray="6,2"/>
<path d="M1509.5,104.7 A340,340 0 0 1 1863.7,76.9" fill="none" stroke="#30f0d8" stroke-width="1.30" opacity="0.59" stroke-dasharray="6,3"/>
<path d="M1509.0,59.2 A378,378 0 0 1 1561.6,31.8" fill="none" stroke="#00e0ff" stroke-width="5.32" opacity="0.38"/>
<path d="M1509.0,59.2 A378,378 0 0 1 1561.6,31.8" fill="none" stroke="#a8ff58" stroke-width="2.25" opacity="0.90"/>
<rect x="1516.3" y="101.0" width="337.8" height="5.6" fill="#00007e"/>
<rect x="1516.3" y="174.0" width="337.8" height="5.6" fill="#00007e"/>
<rect x="1516.3" y="247.2" width="337.8" height="5.6" fill="#00007e"/>
<rect x="1516.3" y="319.6" width="337.8" height="5.6" fill="#00007e"/>
<rect x="1683.9" y="34.0" width="2" height="359.4" fill="#00007e"/>
<line x1="1709.3" y1="379.8" x2="1749.3" y2="400.8" stroke="#0014c0" stroke-width="4.0"/>
<circle cx="1709.3" cy="379.8" r="4.4" fill="#0014c0"/>
</g>
<rect x="1516.3" y="34.0" width="337.8" height="359.4" fill="none" stroke="#404040" stroke-width="0.9"/>
<text x="1521.8" y="387.2" font-size="26.5" font-weight="bold" fill="#fff" textLength="68.5" lengthAdjust="spacingAndGlyphs">142°C</text>
<text x="1519.8" y="68.5" font-size="36" fill="#fff">[g]</text>
<g clip-path="url(#cng)">
<rect x="1856.3" y="34.0" width="144.1" height="359.4" fill="#0a76f4"/>
<rect x="1856.3" y="34.0" width="144.1" height="359.4" filter="url(#mottle)" opacity="0.35"/>
<rect x="1856.3" y="34.0" width="144.1" height="359.4" filter="url(#noise)" opacity="0.8"/>
<polyline points="1856.3,48.1 1868.3,47.1 1880.3,46.2 1892.3,45.3 1904.3,44.5 1916.3,43.8 1928.3,43.2 1940.4,42.7 1952.4,42.2 1964.4,41.8 1976.4,41.5 1988.4,41.3 2000.4,41.1" fill="none" stroke="#30f0d0" stroke-width="2.0" opacity="0.75" stroke-dasharray="3,6,5,4,2,8"/>
<polyline points="1856.3,59.3 1868.3,58.3 1880.3,57.4 1892.3,56.5 1904.3,55.7 1916.3,55.0 1928.3,54.4 1940.4,53.9 1952.4,53.4 1964.4,53.0 1976.4,52.7 1988.4,52.5 2000.4,52.3" fill="none" stroke="#40f0c0" stroke-width="2.0" opacity="0.85" stroke-dasharray="8,3,4,3"/>
<polyline points="1856.3,70.4 1868.3,69.4 1880.3,68.5 1892.3,67.6 1904.3,66.8 1916.3,66.1 1928.3,65.5 1940.4,65.0 1952.4,64.5 1964.4,64.1 1976.4,63.8 1988.4,63.6 2000.4,63.4" fill="none" stroke="#00e0ff" stroke-width="4.5" opacity="0.4"/>
<polyline points="1856.3,70.4 1868.3,69.4 1880.3,68.5 1892.3,67.6 1904.3,66.8 1916.3,66.1 1928.3,65.5 1940.4,65.0 1952.4,64.5 1964.4,64.1 1976.4,63.8 1988.4,63.6 2000.4,63.4" fill="none" stroke="#a8ff58" stroke-width="1.9" opacity="0.95"/>
<polyline points="1856.3,94.1 1868.3,93.1 1880.3,92.2 1892.3,91.3 1904.3,90.5 1916.3,89.8 1928.3,89.2 1940.4,88.7 1952.4,88.2 1964.4,87.8 1976.4,87.5 1988.4,87.3 2000.4,87.1" fill="none" stroke="#30f0d0" stroke-width="2.0" opacity="0.75" stroke-dasharray="3,6,5,4,2,8"/>
<polyline points="1856.3,112.2 1868.3,111.2 1880.3,110.3 1892.3,109.4 1904.3,108.6 1916.3,107.9 1928.3,107.3 1940.4,106.8 1952.4,106.3 1964.4,105.9 1976.4,105.6 1988.4,105.4 2000.4,105.2" fill="none" stroke="#30f0d8" stroke-width="1.9" opacity="0.85"/>
<polyline points="1856.3,133.1 1868.3,132.1 1880.3,131.2 1892.3,130.3 1904.3,129.5 1916.3,128.8 1928.3,128.2 1940.4,127.7 1952.4,127.2 1964.4,126.8 1976.4,126.5 1988.4,126.3 2000.4,126.1" fill="none" stroke="#30f0d0" stroke-width="2.0" opacity="0.75" stroke-dasharray="3,6,5,4,2,8"/>
<polyline points="1856.3,151.2 1868.3,150.2 1880.3,149.3 1892.3,148.4 1904.3,147.6 1916.3,146.9 1928.3,146.3 1940.4,145.8 1952.4,145.3 1964.4,144.9 1976.4,144.6 1988.4,144.4 2000.4,144.2" fill="none" stroke="#00e0ff" stroke-width="4.5" opacity="0.4"/>
<polyline points="1856.3,151.2 1868.3,150.2 1880.3,149.3 1892.3,148.4 1904.3,147.6 1916.3,146.9 1928.3,146.3 1940.4,145.8 1952.4,145.3 1964.4,144.9 1976.4,144.6 1988.4,144.4 2000.4,144.2" fill="none" stroke="#a8ff58" stroke-width="1.9" opacity="0.95"/>
<polyline points="1856.3,183.2 1868.3,182.2 1880.3,181.3 1892.3,180.4 1904.3,179.6 1916.3,178.9 1928.3,178.3 1940.4,177.8 1952.4,177.3 1964.4,176.9 1976.4,176.6 1988.4,176.4 2000.4,176.2" fill="none" stroke="#00e0ff" stroke-width="4.5" opacity="0.4"/>
<polyline points="1856.3,183.2 1868.3,182.2 1880.3,181.3 1892.3,180.4 1904.3,179.6 1916.3,178.9 1928.3,178.3 1940.4,177.8 1952.4,177.3 1964.4,176.9 1976.4,176.6 1988.4,176.4 2000.4,176.2" fill="none" stroke="#a8ff58" stroke-width="1.9" opacity="0.95"/>
<polyline points="1856.3,201.3 1868.3,200.3 1880.3,199.4 1892.3,198.5 1904.3,197.7 1916.3,197.0 1928.3,196.4 1940.4,195.9 1952.4,195.4 1964.4,195.0 1976.4,194.7 1988.4,194.5 2000.4,194.3" fill="none" stroke="#18c8f8" stroke-width="1.5" opacity="0.5"/>
<polyline points="1856.3,244.5 1868.3,243.5 1880.3,242.6 1892.3,241.7 1904.3,240.9 1916.3,240.2 1928.3,239.6 1940.4,239.1 1952.4,238.6 1964.4,238.2 1976.4,237.9 1988.4,237.7 2000.4,237.5" fill="none" stroke="#18c8f8" stroke-width="1.5" opacity="0.5"/>
<polyline points="1856.3,280.7 1868.3,279.7 1880.3,278.8 1892.3,277.9 1904.3,277.1 1916.3,276.4 1928.3,275.8 1940.4,275.3 1952.4,274.8 1964.4,274.4 1976.4,274.1 1988.4,273.9 2000.4,273.7" fill="none" stroke="#00e0ff" stroke-width="4.5" opacity="0.4"/>
<polyline points="1856.3,280.7 1868.3,279.7 1880.3,278.8 1892.3,277.9 1904.3,277.1 1916.3,276.4 1928.3,275.8 1940.4,275.3 1952.4,274.8 1964.4,274.4 1976.4,274.1 1988.4,273.9 2000.4,273.7" fill="none" stroke="#a8ff58" stroke-width="1.9" opacity="0.95"/>
<polyline points="1856.3,326.6 1868.3,325.6 1880.3,324.7 1892.3,323.8 1904.3,323.0 1916.3,322.3 1928.3,321.7 1940.4,321.2 1952.4,320.7 1964.4,320.3 1976.4,320.0 1988.4,319.8 2000.4,319.6" fill="none" stroke="#00e0ff" stroke-width="4.5" opacity="0.4"/>
<polyline points="1856.3,326.6 1868.3,325.6 1880.3,324.7 1892.3,323.8 1904.3,323.0 1916.3,322.3 1928.3,321.7 1940.4,321.2 1952.4,320.7 1964.4,320.3 1976.4,320.0 1988.4,319.8 2000.4,319.6" fill="none" stroke="#a8ff58" stroke-width="1.9" opacity="0.95"/>
<polyline points="1856.3,360.0 1868.3,359.0 1880.3,358.1 1892.3,357.2 1904.3,356.4 1916.3,355.7 1928.3,355.1 1940.4,354.6 1952.4,354.1 1964.4,353.7 1976.4,353.4 1988.4,353.2 2000.4,353.0" fill="none" stroke="#18c8f8" stroke-width="1.5" opacity="0.5"/>
</g>
<rect x="1856.3" y="34.0" width="144.1" height="359.4" fill="none" stroke="#404040" stroke-width="0.9"/>
<g clip-path="url(#cbb)">
<rect x="43.2" y="398.2" width="337.8" height="359.4" fill="url(#gab)"/>
<g clip-path="url(#ccb)"><rect x="43.2" y="398.2" width="337.8" height="359.4" filter="url(#mottle)" opacity="0.35"/><rect x="43.2" y="398.2" width="337.8" height="359.4" filter="url(#noise)" opacity="0.8"/></g>
<circle cx="236.2" cy="744.0" r="56.0" fill="url(#ghb)"/>
<path d="M31.3,572.1 A267.5,267.5 0 0 1 397.2,530.4" fill="none" stroke="#00e0ff" stroke-width="4.91" opacity="0.38"/>
<path d="M31.3,572.1 A267.5,267.5 0 0 1 397.2,530.4" fill="none" stroke="#a8ff58" stroke-width="2.07" opacity="0.90"/>
<path d="M147.3,499.7 A260,260 0 0 1 366.2,518.8" fill="none" stroke="#18c8f8" stroke-width="0.89" opacity="0.20"/>
<path d="M199.8,537.6 A209.6,209.6 0 0 1 307.9,547.0" fill="none" stroke="#18c8f8" stroke-width="0.89" opacity="0.23" stroke-dasharray="6,3"/>
<path d="M56.0,712.2 A183,183 0 0 1 416.4,712.2" fill="none" stroke="#18c8f8" stroke-width="0.95" opacity="0.25"/>
<path d="M39.0,440.4 A362,362 0 0 1 89.0,413.3" fill="none" stroke="#30f0d8" stroke-width="1.55" opacity="0.72" stroke-dasharray="9,2"/>
<path d="M37.0,425.1 A376,376 0 0 1 95.3,395.4" fill="none" stroke="#30f0d8" stroke-width="1.55" opacity="0.72" stroke-dasharray="12,2"/>
<rect x="43.2" y="465.2" width="337.8" height="5.6" fill="#00007e"/>
<rect x="43.2" y="538.2" width="337.8" height="5.6" fill="#00007e"/>
<rect x="43.2" y="611.4" width="337.8" height="5.6" fill="#00007e"/>
<rect x="43.2" y="683.8" width="337.8" height="5.6" fill="#00007e"/>
<rect x="210.8" y="398.2" width="2" height="359.4" fill="#00007e"/>
<line x1="236.2" y1="744.0" x2="276.2" y2="765.0" stroke="#0014c0" stroke-width="4.0"/>
<circle cx="236.2" cy="744.0" r="4.4" fill="#0014c0"/>
</g>
<rect x="43.2" y="398.2" width="337.8" height="359.4" fill="none" stroke="#404040" stroke-width="0.9"/>
<text x="48.7" y="751.4" font-size="26.5" font-weight="bold" fill="#fff" textLength="68.5" lengthAdjust="spacingAndGlyphs">129°C</text>
<g clip-path="url(#cnb)">
<rect x="383.3" y="398.2" width="144.1" height="359.4" fill="#0a7cf4"/>
<rect x="383.3" y="398.2" width="144.1" height="359.4" filter="url(#mottle)" opacity="0.35"/>
<rect x="383.3" y="398.2" width="144.1" height="359.4" filter="url(#noise)" opacity="0.8"/>
<polyline points="383.3,453.4 395.3,452.4 407.3,451.5 419.3,450.6 431.3,449.8 443.3,449.1 455.4,448.5 467.4,448.0 479.4,447.5 491.4,447.1 503.4,446.8 515.4,446.6 527.4,446.4" fill="none" stroke="#18c8f8" stroke-width="1.5" opacity="0.5"/>
<polyline points="383.3,463.3 395.3,462.3 407.3,461.4 419.3,460.5 431.3,459.7 443.3,459.0 455.4,458.4 467.4,457.9 479.4,457.4 491.4,457.0 503.4,456.7 515.4,456.5 527.4,456.3" fill="none" stroke="#18c8f8" stroke-width="1.5" opacity="0.5"/>
<polyline points="383.3,484.5 395.3,483.5 407.3,482.6 419.3,481.7 431.3,480.9 443.3,480.2 455.4,479.6 467.4,479.1 479.4,478.6 491.4,478.2 503.4,477.9 515.4,477.7 527.4,477.5" fill="none" stroke="#30f0d8" stroke-width="1.9" opacity="0.85"/>
<polyline points="383.3,502.8 395.3,501.8 407.3,500.9 419.3,500.0 431.3,499.2 443.3,498.5 455.4,497.9 467.4,497.4 479.4,496.9 491.4,496.5 503.4,496.2 515.4,496.0 527.4,495.8" fill="none" stroke="#00e0ff" stroke-width="4.5" opacity="0.4"/>
<polyline points="383.3,502.8 395.3,501.8 407.3,500.9 419.3,500.0 431.3,499.2 443.3,498.5 455.4,497.9 467.4,497.4 479.4,496.9 491.4,496.5 503.4,496.2 515.4,496.0 527.4,495.8" fill="none" stroke="#a8ff58" stroke-width="1.9" opacity="0.95"/>
<polyline points="383.3,539.5 395.3,538.5 407.3,537.6 419.3,536.7 431.3,535.9 443.3,535.2 455.4,534.6 467.4,534.1 479.4,533.6 491.4,533.2 503.4,532.9 515.4,532.7 527.4,532.5" fill="none" stroke="#00e0ff" stroke-width="4.5" opacity="0.4"/>
<polyline points="383.3,539.5 395.3,538.5 407.3,537.6 419.3,536.7 431.3,535.9 443.3,535.2 455.4,534.6 467.4,534.1 479.4,533.6 491.4,533.2 503.4,532.9 515.4,532.7 527.4,532.5" fill="none" stroke="#a8ff58" stroke-width="1.9" opacity="0.95"/>
<polyline points="383.3,545.2 395.3,544.2 407.3,543.3 419.3,542.4 431.3,541.6 443.3,540.9 455.4,540.3 467.4,539.8 479.4,539.3 491.4,538.9 503.4,538.6 515.4,538.4 527.4,538.2" fill="none" stroke="#30f0d8" stroke-width="1.9" opacity="0.85"/>
<polyline points="383.3,573.4 395.3,572.4 407.3,571.5 419.3,570.6 431.3,569.8 443.3,569.1 455.4,568.5 467.4,568.0 479.4,567.5 491.4,567.1 503.4,566.8 515.4,566.6 527.4,566.4" fill="none" stroke="#18c8f8" stroke-width="1.5" opacity="0.5"/>
<polyline points="383.3,607.2 395.3,606.2 407.3,605.3 419.3,604.4 431.3,603.6 443.3,602.9 455.4,602.3 467.4,601.8 479.4,601.3 491.4,600.9 503.4,600.6 515.4,600.4 527.4,600.2" fill="none" stroke="#00e0ff" stroke-width="4.5" opacity="0.4"/>
<polyline points="383.3,607.2 395.3,606.2 407.3,605.3 419.3,604.4 431.3,603.6 443.3,602.9 455.4,602.3 467.4,601.8 479.4,601.3 491.4,600.9 503.4,600.6 515.4,600.4 527.4,600.2" fill="none" stroke="#a8ff58" stroke-width="1.9" opacity="0.95"/>
<polyline points="383.3,646.8 395.3,645.8 407.3,644.9 419.3,644.0 431.3,643.2 443.3,642.5 455.4,641.9 467.4,641.4 479.4,640.9 491.4,640.5 503.4,640.2 515.4,640.0 527.4,639.8" fill="none" stroke="#18c8f8" stroke-width="1.5" opacity="0.5"/>
<polyline points="383.3,690.5 395.3,689.5 407.3,688.6 419.3,687.7 431.3,686.9 443.3,686.2 455.4,685.6 467.4,685.1 479.4,684.6 491.4,684.2 503.4,683.9 515.4,683.7 527.4,683.5" fill="none" stroke="#30f0d8" stroke-width="1.9" opacity="0.85"/>
<polyline points="383.3,696.1 395.3,695.1 407.3,694.2 419.3,693.3 431.3,692.5 443.3,691.8 455.4,691.2 467.4,690.7 479.4,690.2 491.4,689.8 503.4,689.5 515.4,689.3 527.4,689.1" fill="none" stroke="#30f0d8" stroke-width="1.9" opacity="0.85"/>
</g>
<rect x="383.3" y="398.2" width="144.1" height="359.4" fill="none" stroke="#404040" stroke-width="0.9"/>
<g clip-path="url(#cbd)">
<rect x="532.2" y="398.2" width="337.8" height="359.4" fill="url(#gad)"/>
<g clip-path="url(#ccd)"><rect x="532.2" y="398.2" width="337.8" height="359.4" filter="url(#mottle)" opacity="0.35"/><rect x="532.2" y="398.2" width="337.8" height="359.4" filter="url(#noise)" opacity="0.8"/></g>
<circle cx="725.2" cy="744.0" r="56.0" fill="url(#ghd)"/>
<path d="M520.3,572.1 A267.5,267.5 0 0 1 886.2,530.4" fill="none" stroke="#00e0ff" stroke-width="5.32" opacity="0.40"/>
<path d="M520.3,572.1 A267.5,267.5 0 0 1 886.2,530.4" fill="none" stroke="#a8ff58" stroke-width="2.25" opacity="0.95"/>
<path d="M543.0,711.9 A185,185 0 0 1 907.4,711.9" fill="none" stroke="#18c8f8" stroke-width="1.02" opacity="0.25"/>
<path d="M717.8,533.1 A211,211 0 0 1 776.2,539.3" fill="none" stroke="#18c8f8" stroke-width="1.09" opacity="0.30" stroke-dasharray="3,3"/>
<path d="M526.0,425.1 A376,376 0 0 1 584.3,395.4" fill="none" stroke="#30f0d8" stroke-width="1.73" opacity="0.68" stroke-dasharray="6,3"/>
<rect x="532.2" y="465.2" width="337.8" height="5.6" fill="#00007e"/>
<rect x="532.2" y="538.2" width="337.8" height="5.6" fill="#00007e"/>
<rect x="532.2" y="611.4" width="337.8" height="5.6" fill="#00007e"/>
<rect x="532.2" y="683.8" width="337.8" height="5.6" fill="#00007e"/>
<rect x="699.8" y="398.2" width="2" height="359.4" fill="#00007e"/>
<line x1="725.2" y1="744.0" x2="765.2" y2="765.0" stroke="#0014c0" stroke-width="4.0"/>
<circle cx="725.2" cy="744.0" r="4.4" fill="#0014c0"/>
</g>
<rect x="532.2" y="398.2" width="337.8" height="359.4" fill="none" stroke="#404040" stroke-width="0.9"/>
<text x="537.7" y="751.4" font-size="26.5" font-weight="bold" fill="#fff" textLength="68.5" lengthAdjust="spacingAndGlyphs">129°C</text>
<text x="535.7" y="432.7" font-size="36" fill="#fff">[d]</text>
<g clip-path="url(#cnd)">
<rect x="872.2" y="398.2" width="144.1" height="359.4" fill="#0a7cf4"/>
<rect x="872.2" y="398.2" width="144.1" height="359.4" filter="url(#mottle)" opacity="0.35"/>
<rect x="872.2" y="398.2" width="144.1" height="359.4" filter="url(#noise)" opacity="0.8"/>
<polyline points="872.2,453.4 884.2,452.4 896.2,451.5 908.2,450.6 920.2,449.8 932.2,449.1 944.2,448.5 956.3,448.0 968.3,447.5 980.3,447.1 992.3,446.8 1004.3,446.6 1016.3,446.4" fill="none" stroke="#18c8f8" stroke-width="1.5" opacity="0.5"/>
<polyline points="872.2,463.3 884.2,462.3 896.2,461.4 908.2,460.5 920.2,459.7 932.2,459.0 944.2,458.4 956.3,457.9 968.3,457.4 980.3,457.0 992.3,456.7 1004.3,456.5 1016.3,456.3" fill="none" stroke="#18c8f8" stroke-width="1.5" opacity="0.5"/>
<polyline points="872.2,484.5 884.2,483.5 896.2,482.6 908.2,481.7 920.2,480.9 932.2,480.2 944.2,479.6 956.3,479.1 968.3,478.6 980.3,478.2 992.3,477.9 1004.3,477.7 1016.3,477.5" fill="none" stroke="#30f0d8" stroke-width="1.9" opacity="0.85"/>
<polyline points="872.2,502.8 884.2,501.8 896.2,500.9 908.2,500.0 920.2,499.2 932.2,498.5 944.2,497.9 956.3,497.4 968.3,496.9 980.3,496.5 992.3,496.2 1004.3,496.0 1016.3,495.8" fill="none" stroke="#00e0ff" stroke-width="4.5" opacity="0.4"/>
<polyline points="872.2,502.8 884.2,501.8 896.2,500.9 908.2,500.0 920.2,499.2 932.2,498.5 944.2,497.9 956.3,497.4 968.3,496.9 980.3,496.5 992.3,496.2 1004.3,496.0 1016.3,495.8" fill="none" stroke="#a8ff58" stroke-width="1.9" opacity="0.95"/>
<polyline points="872.2,538.0 884.2,537.0 896.2,536.1 908.2,535.2 920.2,534.4 932.2,533.7 944.2,533.1 956.3,532.6 968.3,532.1 980.3,531.7 992.3,531.4 1004.3,531.2 1016.3,531.0" fill="none" stroke="#00e0ff" stroke-width="4.5" opacity="0.4"/>
<polyline points="872.2,538.0 884.2,537.0 896.2,536.1 908.2,535.2 920.2,534.4 932.2,533.7 944.2,533.1 956.3,532.6 968.3,532.1 980.3,531.7 992.3,531.4 1004.3,531.2 1016.3,531.0" fill="none" stroke="#a8ff58" stroke-width="1.9" opacity="0.95"/>
<polyline points="872.2,550.8 884.2,549.8 896.2,548.9 908.2,548.0 920.2,547.2 932.2,546.5 944.2,545.9 956.3,545.4 968.3,544.9 980.3,544.5 992.3,544.2 1004.3,544.0 1016.3,543.8" fill="none" stroke="#30f0d8" stroke-width="1.9" opacity="0.85"/>
<polyline points="872.2,571.9 884.2,570.9 896.2,570.0 908.2,569.1 920.2,568.3 932.2,567.6 944.2,567.0 956.3,566.5 968.3,566.0 980.3,565.6 992.3,565.3 1004.3,565.1 1016.3,564.9" fill="none" stroke="#18c8f8" stroke-width="1.5" opacity="0.5"/>
<polyline points="872.2,607.2 884.2,606.2 896.2,605.3 908.2,604.4 920.2,603.6 932.2,602.9 944.2,602.3 956.3,601.8 968.3,601.3 980.3,600.9 992.3,600.6 1004.3,600.4 1016.3,600.2" fill="none" stroke="#00e0ff" stroke-width="4.5" opacity="0.4"/>
<polyline points="872.2,607.2 884.2,606.2 896.2,605.3 908.2,604.4 920.2,603.6 932.2,602.9 944.2,602.3 956.3,601.8 968.3,601.3 980.3,600.9 992.3,600.6 1004.3,600.4 1016.3,600.2" fill="none" stroke="#a8ff58" stroke-width="1.9" opacity="0.95"/>
<polyline points="872.2,631.2 884.2,630.2 896.2,629.3 908.2,628.4 920.2,627.6 932.2,626.9 944.2,626.3 956.3,625.8 968.3,625.3 980.3,624.9 992.3,624.6 1004.3,624.4 1016.3,624.2" fill="none" stroke="#18c8f8" stroke-width="1.5" opacity="0.5"/>
<polyline points="872.2,648.1 884.2,647.1 896.2,646.2 908.2,645.3 920.2,644.5 932.2,643.8 944.2,643.2 956.3,642.7 968.3,642.2 980.3,641.8 992.3,641.5 1004.3,641.3 1016.3,641.1" fill="none" stroke="#18c8f8" stroke-width="1.5" opacity="0.5"/>
<polyline points="872.2,672.0 884.2,671.0 896.2,670.1 908.2,669.2 920.2,668.4 932.2,667.7 944.2,667.1 956.3,666.6 968.3,666.1 980.3,665.7 992.3,665.4 1004.3,665.2 1016.3,665.0" fill="none" stroke="#18c8f8" stroke-width="1.5" opacity="0.5"/>
<polyline points="872.2,691.8 884.2,690.8 896.2,689.9 908.2,689.0 920.2,688.2 932.2,687.5 944.2,686.9 956.3,686.4 968.3,685.9 980.3,685.5 992.3,685.2 1004.3,685.0 1016.3,684.8" fill="none" stroke="#30f0d8" stroke-width="1.9" opacity="0.85"/>
<polyline points="872.2,703.1 884.2,702.1 896.2,701.2 908.2,700.3 920.2,699.5 932.2,698.8 944.2,698.2 956.3,697.7 968.3,697.2 980.3,696.8 992.3,696.5 1004.3,696.3 1016.3,696.1" fill="none" stroke="#30f0d8" stroke-width="1.9" opacity="0.85"/>
</g>
<rect x="872.2" y="398.2" width="144.1" height="359.4" fill="none" stroke="#404040" stroke-width="0.9"/>
<g clip-path="url(#cbf)">
<rect x="1027.2" y="398.2" width="337.8" height="359.4" fill="url(#gaf)"/>
<g clip-path="url(#ccf)"><rect x="1027.2" y="398.2" width="337.8" height="359.4" filter="url(#mottle)" opacity="0.35"/><rect x="1027.2" y="398.2" width="337.8" height="359.4" filter="url(#noise)" opacity="0.8"/></g>
<circle cx="1220.2" cy="744.0" r="150.0" fill="url(#ghf)"/>
<path d="M1015.3,572.1 A267.5,267.5 0 0 1 1381.2,530.4" fill="none" stroke="#30f8ff" stroke-width="11.45" opacity="0.50"/>
<path d="M1015.3,572.1 A267.5,267.5 0 0 1 1381.2,530.4" fill="none" stroke="#b0ff60" stroke-width="5.85" opacity="0.80"/>
<path d="M1015.3,572.1 A267.5,267.5 0 0 1 1381.2,530.4" fill="none" stroke="#ffd800" stroke-width="3.31" opacity="1.00"/>
<path d="M1015.3,572.1 A267.5,267.5 0 0 1 1381.2,530.4" fill="none" stroke="#ff8000" stroke-width="1.15" opacity="0.60"/>
<path d="M1039.5,712.1 A183.5,183.5 0 0 1 1400.9,712.1" fill="none" stroke="#00e0ff" stroke-width="1.53" opacity="0.45"/>
<path d="M1021.0,425.1 A376,376 0 0 1 1079.3,395.4" fill="none" stroke="#00e0ff" stroke-width="2.18" opacity="0.60"/>
<rect x="1027.2" y="465.2" width="337.8" height="5.6" fill="#00007e"/>
<rect x="1027.2" y="538.2" width="337.8" height="5.6" fill="#00007e"/>
<rect x="1027.2" y="611.4" width="337.8" height="5.6" fill="#00007e"/>
<rect x="1027.2" y="683.8" width="337.8" height="5.6" fill="#00007e"/>
<rect x="1194.8" y="398.2" width="2" height="359.4" fill="#00007e"/>
<line x1="1220.2" y1="744.0" x2="1260.2" y2="766.0" stroke="#30e8f0" stroke-width="6.5"/>
<circle cx="1220.2" cy="744.0" r="7.5" fill="none" stroke="#ff3000" stroke-width="1"/>
<circle cx="1220.2" cy="744.0" r="5.5" fill="#30e8f0"/>
</g>
<rect x="1027.2" y="398.2" width="337.8" height="359.4" fill="none" stroke="#404040" stroke-width="0.9"/>
<text x="1032.7" y="751.4" font-size="26.5" font-weight="bold" fill="#fff" textLength="68.5" lengthAdjust="spacingAndGlyphs">142°C</text>
<text x="1030.7" y="432.7" font-size="36" fill="#fff">[f]</text>
<g clip-path="url(#cnf)">
<rect x="1367.2" y="398.2" width="144.1" height="359.4" fill="url(#gnf)"/>
<rect x="1367.2" y="398.2" width="144.1" height="359.4" filter="url(#mottle)" opacity="0.35"/>
<polyline points="1367.2,409.7 1379.2,408.7 1391.2,407.8 1403.2,406.9 1415.2,406.1 1427.2,405.4 1439.2,404.8 1451.3,404.3 1463.3,403.8 1475.3,403.4 1487.3,403.1 1499.3,402.9 1511.3,402.7" fill="none" stroke="#00e0ff" stroke-width="2.4" opacity="0.75"/>
<polyline points="1367.2,419.6 1379.2,418.6 1391.2,417.7 1403.2,416.8 1415.2,416.0 1427.2,415.3 1439.2,414.7 1451.3,414.2 1463.3,413.7 1475.3,413.3 1487.3,413.0 1499.3,412.8 1511.3,412.6" fill="none" stroke="#00e0ff" stroke-width="2.4" opacity="0.75"/>
<polyline points="1367.2,460.5 1379.2,459.5 1391.2,458.6 1403.2,457.7 1415.2,456.9 1427.2,456.2 1439.2,455.6 1451.3,455.1 1463.3,454.6 1475.3,454.2 1487.3,453.9 1499.3,453.7 1511.3,453.5" fill="none" stroke="#00e0ff" stroke-width="2.4" opacity="0.75"/>
<polyline points="1367.2,481.6 1379.2,480.6 1391.2,479.7 1403.2,478.8 1415.2,478.0 1427.2,477.3 1439.2,476.7 1451.3,476.2 1463.3,475.7 1475.3,475.3 1487.3,475.0 1499.3,474.8 1511.3,474.6" fill="none" stroke="#00e0ff" stroke-width="2.4" opacity="0.75"/>
<polyline points="1367.2,505.6 1379.2,504.6 1391.2,503.7 1403.2,502.8 1415.2,502.0 1427.2,501.3 1439.2,500.7 1451.3,500.2 1463.3,499.7 1475.3,499.3 1487.3,499.0 1499.3,498.8 1511.3,498.6" fill="none" stroke="#00e0ff" stroke-width="2.4" opacity="0.75"/>
<polyline points="1367.2,521.1 1379.2,520.1 1391.2,519.2 1403.2,518.3 1415.2,517.5 1427.2,516.8 1439.2,516.2 1451.3,515.7 1463.3,515.2 1475.3,514.8 1487.3,514.5 1499.3,514.3 1511.3,514.1" fill="none" stroke="#00f0ff" stroke-width="7.0" opacity="0.6"/>
<polyline points="1367.2,521.1 1379.2,520.1 1391.2,519.2 1403.2,518.3 1415.2,517.5 1427.2,516.8 1439.2,516.2 1451.3,515.7 1463.3,515.2 1475.3,514.8 1487.3,514.5 1499.3,514.3 1511.3,514.1" fill="none" stroke="#e8ff40" stroke-width="2.4" opacity="1.0"/>
<polyline points="1367.2,559.2 1379.2,558.2 1391.2,557.3 1403.2,556.4 1415.2,555.6 1427.2,554.9 1439.2,554.3 1451.3,553.8 1463.3,553.3 1475.3,552.9 1487.3,552.6 1499.3,552.4 1511.3,552.2" fill="none" stroke="#00f0ff" stroke-width="7.0" opacity="0.6"/>
<polyline points="1367.2,559.2 1379.2,558.2 1391.2,557.3 1403.2,556.4 1415.2,555.6 1427.2,554.9 1439.2,554.3 1451.3,553.8 1463.3,553.3 1475.3,552.9 1487.3,552.6 1499.3,552.4 1511.3,552.2" fill="none" stroke="#e8ff40" stroke-width="2.4" opacity="1.0"/>
<polyline points="1367.2,566.3 1379.2,565.3 1391.2,564.4 1403.2,563.5 1415.2,562.7 1427.2,562.0 1439.2,561.4 1451.3,560.9 1463.3,560.4 1475.3,560.0 1487.3,559.7 1499.3,559.5 1511.3,559.3" fill="none" stroke="#00e0ff" stroke-width="2.4" opacity="0.75"/>
<polyline points="1367.2,595.9 1379.2,594.9 1391.2,594.0 1403.2,593.1 1415.2,592.3 1427.2,591.6 1439.2,591.0 1451.3,590.5 1463.3,590.0 1475.3,589.6 1487.3,589.3 1499.3,589.1 1511.3,588.9" fill="none" stroke="#00e0ff" stroke-width="2.4" opacity="0.75"/>
<polyline points="1367.2,631.2 1379.2,630.2 1391.2,629.3 1403.2,628.4 1415.2,627.6 1427.2,626.9 1439.2,626.3 1451.3,625.8 1463.3,625.3 1475.3,624.9 1487.3,624.6 1499.3,624.4 1511.3,624.2" fill="none" stroke="#00f0ff" stroke-width="7.0" opacity="0.6"/>
<polyline points="1367.2,631.2 1379.2,630.2 1391.2,629.3 1403.2,628.4 1415.2,627.6 1427.2,626.9 1439.2,626.3 1451.3,625.8 1463.3,625.3 1475.3,624.9 1487.3,624.6 1499.3,624.4 1511.3,624.2" fill="none" stroke="#e8ff40" stroke-width="2.4" opacity="1.0"/>
<polyline points="1367.2,649.5 1379.2,648.5 1391.2,647.6 1403.2,646.7 1415.2,645.9 1427.2,645.2 1439.2,644.6 1451.3,644.1 1463.3,643.6 1475.3,643.2 1487.3,642.9 1499.3,642.7 1511.3,642.5" fill="none" stroke="#00e0ff" stroke-width="2.4" opacity="0.75"/>
<polyline points="1367.2,691.8 1379.2,690.8 1391.2,689.9 1403.2,689.0 1415.2,688.2 1427.2,687.5 1439.2,686.9 1451.3,686.4 1463.3,685.9 1475.3,685.5 1487.3,685.2 1499.3,685.0 1511.3,684.8" fill="none" stroke="#00e0ff" stroke-width="2.4" opacity="0.75"/>
<polyline points="1367.2,717.2 1379.2,716.2 1391.2,715.3 1403.2,714.4 1415.2,713.6 1427.2,712.9 1439.2,712.3 1451.3,711.8 1463.3,711.3 1475.3,710.9 1487.3,710.6 1499.3,710.4 1511.3,710.2" fill="none" stroke="#00e0ff" stroke-width="2.4" opacity="0.75"/>
<polyline points="1367.2,728.5 1379.2,727.5 1391.2,726.6 1403.2,725.7 1415.2,724.9 1427.2,724.2 1439.2,723.6 1451.3,723.1 1463.3,722.6 1475.3,722.2 1487.3,721.9 1499.3,721.7 1511.3,721.5" fill="none" stroke="#00e0ff" stroke-width="2.4" opacity="0.75"/>
<polyline points="1367.2,738.4 1379.2,737.4 1391.2,736.5 1403.2,735.6 1415.2,734.8 1427.2,734.1 1439.2,733.5 1451.3,733.0 1463.3,732.5 1475.3,732.1 1487.3,731.8 1499.3,731.6 1511.3,731.4" fill="none" stroke="#00e0ff" stroke-width="2.4" opacity="0.75"/>
</g>
<rect x="1367.2" y="398.2" width="144.1" height="359.4" fill="none" stroke="#404040" stroke-width="0.9"/>
<g clip-path="url(#cbh)">
<rect x="1516.3" y="398.2" width="337.8" height="359.4" fill="url(#gah)"/>
<g clip-path="url(#cch)"><rect x="1516.3" y="398.2" width="337.8" height="359.4" filter="url(#mottle)" opacity="0.35"/><rect x="1516.3" y="398.2" width="337.8" height="359.4" filter="url(#noise)" opacity="0.8"/></g>
<circle cx="1709.3" cy="744.0" r="56.0" fill="url(#ghh)"/>
<path d="M1504.4,572.1 A267.5,267.5 0 0 1 1870.3,530.4" fill="none" stroke="#00e8ff" stroke-width="7.09" opacity="0.50"/>
<path d="M1504.4,572.1 A267.5,267.5 0 0 1 1870.3,530.4" fill="none" stroke="#e8ff30" stroke-width="2.84" opacity="1.00"/>
<path d="M1528.3,563.0 A256,256 0 0 1 1837.3,522.3" fill="none" stroke="#18c8f8" stroke-width="0.95" opacity="0.23"/>
<path d="M1529.1,712.2 A183,183 0 0 1 1889.5,712.2" fill="none" stroke="#18c8f8" stroke-width="0.95" opacity="0.28"/>
<path d="M1510.1,425.1 A376,376 0 0 1 1568.4,395.4" fill="none" stroke="#30f0d8" stroke-width="1.73" opacity="0.68" stroke-dasharray="6,3"/>
<rect x="1516.3" y="465.2" width="337.8" height="5.6" fill="#00007e"/>
<rect x="1516.3" y="538.2" width="337.8" height="5.6" fill="#00007e"/>
<rect x="1516.3" y="611.4" width="337.8" height="5.6" fill="#00007e"/>
<rect x="1516.3" y="683.8" width="337.8" height="5.6" fill="#00007e"/>
<rect x="1683.9" y="398.2" width="2" height="359.4" fill="#00007e"/>
<line x1="1709.3" y1="744.0" x2="1749.3" y2="765.0" stroke="#0014c0" stroke-width="4.0"/>
<circle cx="1709.3" cy="744.0" r="4.4" fill="#0014c0"/>
</g>
<rect x="1516.3" y="398.2" width="337.8" height="359.4" fill="none" stroke="#404040" stroke-width="0.9"/>
<text x="1521.8" y="751.4" font-size="26.5" font-weight="bold" fill="#fff" textLength="68.5" lengthAdjust="spacingAndGlyphs">142°C</text>
<text x="1519.8" y="432.7" font-size="36" fill="#fff">[h]</text>
<g clip-path="url(#cnh)">
<rect x="1856.3" y="398.2" width="144.1" height="359.4" fill="#0a7cf4"/>
<rect x="1856.3" y="398.2" width="144.1" height="359.4" filter="url(#mottle)" opacity="0.35"/>
<rect x="1856.3" y="398.2" width="144.1" height="359.4" filter="url(#noise)" opacity="0.8"/>
<polyline points="1856.3,453.4 1868.3,452.4 1880.3,451.5 1892.3,450.6 1904.3,449.8 1916.3,449.1 1928.3,448.5 1940.4,448.0 1952.4,447.5 1964.4,447.1 1976.4,446.8 1988.4,446.6 2000.4,446.4" fill="none" stroke="#18c8f8" stroke-width="1.5" opacity="0.5"/>
<polyline points="1856.3,463.3 1868.3,462.3 1880.3,461.4 1892.3,460.5 1904.3,459.7 1916.3,459.0 1928.3,458.4 1940.4,457.9 1952.4,457.4 1964.4,457.0 1976.4,456.7 1988.4,456.5 2000.4,456.3" fill="none" stroke="#18c8f8" stroke-width="1.5" opacity="0.5"/>
<polyline points="1856.3,484.5 1868.3,483.5 1880.3,482.6 1892.3,481.7 1904.3,480.9 1916.3,480.2 1928.3,479.6 1940.4,479.1 1952.4,478.6 1964.4,478.2 1976.4,477.9 1988.4,477.7 2000.4,477.5" fill="none" stroke="#30f0d8" stroke-width="1.9" opacity="0.85"/>
<polyline points="1856.3,502.8 1868.3,501.8 1880.3,500.9 1892.3,500.0 1904.3,499.2 1916.3,498.5 1928.3,497.9 1940.4,497.4 1952.4,496.9 1964.4,496.5 1976.4,496.2 1988.4,496.0 2000.4,495.8" fill="none" stroke="#00e8ff" stroke-width="5.5" opacity="0.45"/>
<polyline points="1856.3,502.8 1868.3,501.8 1880.3,500.9 1892.3,500.0 1904.3,499.2 1916.3,498.5 1928.3,497.9 1940.4,497.4 1952.4,496.9 1964.4,496.5 1976.4,496.2 1988.4,496.0 2000.4,495.8" fill="none" stroke="#d8ff40" stroke-width="2.2" opacity="1.0"/>
<polyline points="1856.3,502.8 1868.3,501.8 1880.3,500.9 1892.3,500.0 1904.3,499.2 1916.3,498.5 1928.3,497.9 1940.4,497.4 1952.4,496.9 1964.4,496.5 1976.4,496.2 1988.4,496.0 2000.4,495.8" fill="none" stroke="#ff3a00" stroke-width="2.2" opacity="0.9" stroke-dasharray="2,14,3,22"/>
<polyline points="1856.3,538.1 1868.3,537.1 1880.3,536.2 1892.3,535.3 1904.3,534.5 1916.3,533.8 1928.3,533.2 1940.4,532.7 1952.4,532.2 1964.4,531.8 1976.4,531.5 1988.4,531.3 2000.4,531.1" fill="none" stroke="#00e0ff" stroke-width="4.5" opacity="0.4"/>
<polyline points="1856.3,538.1 1868.3,537.1 1880.3,536.2 1892.3,535.3 1904.3,534.5 1916.3,533.8 1928.3,533.2 1940.4,532.7 1952.4,532.2 1964.4,531.8 1976.4,531.5 1988.4,531.3 2000.4,531.1" fill="none" stroke="#a8ff58" stroke-width="1.9" opacity="0.95"/>
<polyline points="1856.3,545.1 1868.3,544.1 1880.3,543.2 1892.3,542.3 1904.3,541.5 1916.3,540.8 1928.3,540.2 1940.4,539.7 1952.4,539.2 1964.4,538.8 1976.4,538.5 1988.4,538.3 2000.4,538.1" fill="none" stroke="#30f0d8" stroke-width="1.9" opacity="0.85"/>
<polyline points="1856.3,573.4 1868.3,572.4 1880.3,571.5 1892.3,570.6 1904.3,569.8 1916.3,569.1 1928.3,568.5 1940.4,568.0 1952.4,567.5 1964.4,567.1 1976.4,566.8 1988.4,566.6 2000.4,566.4" fill="none" stroke="#18c8f8" stroke-width="1.5" opacity="0.5"/>
<polyline points="1856.3,607.2 1868.3,606.2 1880.3,605.3 1892.3,604.4 1904.3,603.6 1916.3,602.9 1928.3,602.3 1940.4,601.8 1952.4,601.3 1964.4,600.9 1976.4,600.6 1988.4,600.4 2000.4,600.2" fill="none" stroke="#00e0ff" stroke-width="4.5" opacity="0.4"/>
<polyline points="1856.3,607.2 1868.3,606.2 1880.3,605.3 1892.3,604.4 1904.3,603.6 1916.3,602.9 1928.3,602.3 1940.4,601.8 1952.4,601.3 1964.4,600.9 1976.4,600.6 1988.4,600.4 2000.4,600.2" fill="none" stroke="#a8ff58" stroke-width="1.9" opacity="0.95"/>
<polyline points="1856.3,622.7 1868.3,621.7 1880.3,620.8 1892.3,619.9 1904.3,619.1 1916.3,618.4 1928.3,617.8 1940.4,617.3 1952.4,616.8 1964.4,616.4 1976.4,616.1 1988.4,615.9 2000.4,615.7" fill="none" stroke="#18c8f8" stroke-width="1.5" opacity="0.5"/>
<polyline points="1856.3,645.3 1868.3,644.3 1880.3,643.4 1892.3,642.5 1904.3,641.7 1916.3,641.0 1928.3,640.4 1940.4,639.9 1952.4,639.4 1964.4,639.0 1976.4,638.7 1988.4,638.5 2000.4,638.3" fill="none" stroke="#18c8f8" stroke-width="1.5" opacity="0.5"/>
<polyline points="1856.3,670.7 1868.3,669.7 1880.3,668.8 1892.3,667.9 1904.3,667.1 1916.3,666.4 1928.3,665.8 1940.4,665.3 1952.4,664.8 1964.4,664.4 1976.4,664.1 1988.4,663.9 2000.4,663.7" fill="none" stroke="#18c8f8" stroke-width="1.5" opacity="0.5"/>
<polyline points="1856.3,691.9 1868.3,690.9 1880.3,690.0 1892.3,689.1 1904.3,688.3 1916.3,687.6 1928.3,687.0 1940.4,686.5 1952.4,686.0 1964.4,685.6 1976.4,685.3 1988.4,685.1 2000.4,684.9" fill="none" stroke="#30f0d8" stroke-width="1.9" opacity="0.85"/>
<polyline points="1856.3,700.3 1868.3,699.3 1880.3,698.4 1892.3,697.5 1904.3,696.7 1916.3,696.0 1928.3,695.4 1940.4,694.9 1952.4,694.4 1964.4,694.0 1976.4,693.7 1988.4,693.5 2000.4,693.3" fill="none" stroke="#30f0d8" stroke-width="1.9" opacity="0.85"/>
</g>
<rect x="1856.3" y="398.2" width="144.1" height="359.4" fill="none" stroke="#404040" stroke-width="0.9"/>
<path d="M282.7,136.0 L278.1,148.1 L267.2,143.9 L271.5,173.4 L294.3,154.2 L283.3,150.1 L287.9,138.0 Z" fill="#fff"/>
<text x="252.7" y="128.9" font-size="28.6" font-weight="bold" fill="#fff" textLength="68.0" lengthAdjust="spacingAndGlyphs">(020)</text>
<path d="M755.1,130.6 L750.5,142.5 L739.6,138.3 L743.8,167.8 L766.7,148.7 L755.7,144.5 L760.3,132.6 Z" fill="#fff"/>
<text x="725.0" y="122.8" font-size="28.6" font-weight="bold" fill="#fff" textLength="67.7" lengthAdjust="spacingAndGlyphs">(020)</text>
<path d="M1259.3,133.4 L1255.2,143.9 L1244.3,139.7 L1248.5,169.2 L1271.4,150.1 L1260.5,145.9 L1264.5,135.4 Z" fill="#fff"/>
<text x="1222.0" y="125.2" font-size="28.6" font-weight="bold" fill="#fff" textLength="67.7" lengthAdjust="spacingAndGlyphs">(020)</text>
<path d="M1737.7,131.5 L1733.3,143.3 L1722.4,139.3 L1727.0,168.7 L1749.6,149.3 L1738.6,145.3 L1742.9,133.5 Z" fill="#fff"/>
<text x="1700.0" y="124.2" font-size="28.6" font-weight="bold" fill="#fff" textLength="67.7" lengthAdjust="spacingAndGlyphs">(020)</text>
<path d="M416.8,237.9 L420.9,249.3 L409.4,253.5 L432.4,272.8 L437.7,243.2 L426.2,247.4 L422.0,235.9 Z" fill="#fff"/>
<text x="386.4" y="227.9" font-size="28.6" font-weight="bold" fill="#fff" textLength="68.0" lengthAdjust="spacingAndGlyphs">(040)</text>
<path d="M908.2,238.3 L911.7,248.5 L900.1,252.5 L922.8,272.2 L928.5,242.7 L917.0,246.7 L913.4,236.5 Z" fill="#fff"/>
<text x="876.6" y="227.9" font-size="28.6" font-weight="bold" fill="#fff" textLength="67.7" lengthAdjust="spacingAndGlyphs">(040)</text>
<path d="M1405.9,267.5 L1409.4,278.9 L1397.8,282.5 L1419.8,302.9 L1426.4,273.6 L1414.8,277.2 L1411.3,265.9 Z" fill="#fff"/>
<text x="1373.6" y="257.7" font-size="28.6" font-weight="bold" fill="#fff" textLength="67.9" lengthAdjust="spacingAndGlyphs">(040)</text>
<path d="M1895.0,238.4 L1898.7,249.1 L1887.1,253.0 L1909.7,272.8 L1915.5,243.4 L1904.0,247.3 L1900.4,236.6 Z" fill="#fff"/>
<text x="1863.8" y="227.9" font-size="28.6" font-weight="bold" fill="#fff" textLength="67.7" lengthAdjust="spacingAndGlyphs">(040)</text>
<path d="M485.6,360.2 L480.7,347.0 L492.1,342.7 L469.0,323.6 L464.0,353.2 L475.4,348.9 L480.4,362.2 Z" fill="#fff"/>
<text x="450.0" y="386.0" font-size="28.6" font-weight="bold" fill="#fff" textLength="67.7" lengthAdjust="spacingAndGlyphs">(021)</text>
<path d="M976.1,354.7 L971.9,345.1 L983.1,340.3 L959.0,322.4 L955.6,352.2 L966.8,347.4 L970.9,356.9 Z" fill="#fff"/>
<text x="940.0" y="383.7" font-size="28.6" font-weight="bold" fill="#fff" textLength="67.7" lengthAdjust="spacingAndGlyphs">(021)</text>
<path d="M1445.6,381.2 L1437.0,371.3 L1446.1,363.2 L1417.7,353.6 L1423.6,383.0 L1432.7,375.0 L1441.4,384.8 Z" fill="#fff"/>
<text x="1440.0" y="386.0" font-size="28.6" font-weight="bold" fill="#fff" textLength="67.3" lengthAdjust="spacingAndGlyphs">(021)</text>
<path d="M1928.2,352.3 L1920.2,342.0 L1929.8,334.5 L1902.0,323.2 L1906.1,352.9 L1915.8,345.4 L1923.8,355.7 Z" fill="#fff"/>
<text x="1924.0" y="355.9" font-size="28.6" font-weight="bold" fill="#fff" textLength="67.5" lengthAdjust="spacingAndGlyphs">(021)</text>
<path d="M283.8,441.1 L278.7,453.0 L267.9,448.4 L270.9,478.0 L294.5,459.9 L283.8,455.3 L289.0,443.3 Z" fill="#fff"/>
<text x="253.0" y="431.8" font-size="28.6" font-weight="bold" fill="#fff" textLength="67.1" lengthAdjust="spacingAndGlyphs">(110)</text>
<path d="M784.4,444.0 L780.0,455.5 L769.1,451.3 L773.4,480.8 L796.2,461.6 L785.3,457.5 L789.6,446.0 Z" fill="#fff"/>
<text x="755.0" y="434.1" font-size="28.6" font-weight="bold" fill="#fff" textLength="67.1" lengthAdjust="spacingAndGlyphs">(110)</text>
<path d="M1268.7,441.3 L1264.7,452.6 L1253.6,448.6 L1258.6,478.0 L1281.0,458.3 L1269.9,454.4 L1273.9,443.1 Z" fill="#fff"/>
<text x="1240.4" y="431.8" font-size="28.6" font-weight="bold" fill="#fff" textLength="66.6" lengthAdjust="spacingAndGlyphs">(110)</text>
<path d="M1753.5,441.2 L1749.2,452.7 L1738.3,448.6 L1742.8,478.0 L1765.4,458.7 L1754.5,454.6 L1758.7,443.2 Z" fill="#fff"/>
<text x="1724.4" y="431.8" font-size="28.6" font-weight="bold" fill="#fff" textLength="66.9" lengthAdjust="spacingAndGlyphs">(110)</text>
<path d="M452.1,438.0 L452.1,502.7 L440.4,502.7 L454.9,529.7 L469.4,502.7 L457.7,502.7 L457.7,438.0 Z" fill="#fff"/>
<text x="421.0" y="431.1" font-size="28.6" font-weight="bold" fill="#fff" textLength="67.7" lengthAdjust="spacingAndGlyphs">(022)</text>
<path d="M941.3,438.0 L941.3,502.6 L929.6,502.6 L944.1,529.6 L958.6,502.6 L946.9,502.6 L946.9,438.0 Z" fill="#fff"/>
<text x="910.0" y="431.1" font-size="28.6" font-weight="bold" fill="#fff" textLength="67.7" lengthAdjust="spacingAndGlyphs">(022)</text>
<path d="M1435.5,457.7 L1435.5,523.2 L1423.8,523.2 L1438.3,550.2 L1452.8,523.2 L1441.1,523.2 L1441.1,457.7 Z" fill="#fff"/>
<text x="1403.9" y="451.7" font-size="28.6" font-weight="bold" fill="#fff" textLength="68.1" lengthAdjust="spacingAndGlyphs">(022)</text>
<path d="M1924.8,436.6 L1924.8,502.7 L1913.1,502.7 L1927.6,529.7 L1942.1,502.7 L1930.4,502.7 L1930.4,436.6 Z" fill="#fff"/>
<text x="1894.0" y="431.1" font-size="28.6" font-weight="bold" fill="#fff" textLength="67.7" lengthAdjust="spacingAndGlyphs">(022)</text>
<path d="M458.4,644.4 L452.4,627.9 L463.8,623.7 L440.8,604.5 L435.7,634.1 L447.1,629.9 L453.2,646.4 Z" fill="#fff"/>
<text x="426.9" y="672.3" font-size="28.6" font-weight="bold" fill="#fff" textLength="68.1" lengthAdjust="spacingAndGlyphs">(020)</text>
<path d="M938.2,644.2 L931.2,627.4 L942.5,622.7 L918.7,604.4 L914.8,634.2 L926.0,629.5 L933.0,646.4 Z" fill="#fff"/>
<text x="905.4" y="672.3" font-size="28.6" font-weight="bold" fill="#fff" textLength="68.1" lengthAdjust="spacingAndGlyphs">(020)</text>
<path d="M1459.5,668.3 L1452.6,650.7 L1464.0,646.2 L1440.5,627.5 L1436.0,657.2 L1447.4,652.7 L1454.3,670.3 Z" fill="#fff"/>
<text x="1426.6" y="695.9" font-size="28.6" font-weight="bold" fill="#fff" textLength="67.5" lengthAdjust="spacingAndGlyphs">(020)</text>
<path d="M1956.2,641.4 L1949.1,624.1 L1960.4,619.5 L1936.7,601.1 L1932.6,630.8 L1943.9,626.2 L1951.0,643.6 Z" fill="#fff"/>
<text x="1922.6" y="668.9" font-size="28.6" font-weight="bold" fill="#fff" textLength="67.7" lengthAdjust="spacingAndGlyphs">(020)</text>
<line x1="95.7" y1="786.8" x2="95.7" y2="1248.2" stroke="#e3e3e3" stroke-width="1.2"/>
<line x1="212.2" y1="786.8" x2="212.2" y2="1248.2" stroke="#e3e3e3" stroke-width="1.2"/>
<line x1="328.7" y1="786.8" x2="328.7" y2="1248.2" stroke="#e3e3e3" stroke-width="1.2"/>
<line x1="445.3" y1="786.8" x2="445.3" y2="1248.2" stroke="#e3e3e3" stroke-width="1.2"/>
<line x1="561.8" y1="786.8" x2="561.8" y2="1248.2" stroke="#e3e3e3" stroke-width="1.2"/>
<line x1="678.3" y1="786.8" x2="678.3" y2="1248.2" stroke="#e3e3e3" stroke-width="1.2"/>
<line x1="794.8" y1="786.8" x2="794.8" y2="1248.2" stroke="#e3e3e3" stroke-width="1.2"/>
<line x1="911.3" y1="786.8" x2="911.3" y2="1248.2" stroke="#e3e3e3" stroke-width="1.2"/>
<line x1="88.3" y1="1243.7" x2="1028.1" y2="1243.7" stroke="#e3e3e3" stroke-width="1.2"/>
<line x1="88.3" y1="1152.3" x2="1028.1" y2="1152.3" stroke="#e3e3e3" stroke-width="1.2"/>
<line x1="88.3" y1="1060.9" x2="1028.1" y2="1060.9" stroke="#e3e3e3" stroke-width="1.2"/>
<line x1="88.3" y1="969.6" x2="1028.1" y2="969.6" stroke="#e3e3e3" stroke-width="1.2"/>
<line x1="88.3" y1="878.2" x2="1028.1" y2="878.2" stroke="#e3e3e3" stroke-width="1.2"/>
<circle cx="91.9" cy="1243.6" r="6.0" fill="#fff" stroke="#000" stroke-width="1.5"/>
<circle cx="99.5" cy="1243.6" r="6.0" fill="#fff" stroke="#000" stroke-width="1.5"/>
<circle cx="107.0" cy="1243.6" r="6.0" fill="#fff" stroke="#000" stroke-width="1.5"/>
<circle cx="114.6" cy="1243.6" r="6.0" fill="#fff" stroke="#000" stroke-width="1.5"/>
<circle cx="122.1" cy="1243.6" r="6.0" fill="#fff" stroke="#000" stroke-width="1.5"/>
<circle cx="129.7" cy="1243.6" r="6.0" fill="#fff" stroke="#000" stroke-width="1.5"/>
<circle cx="137.3" cy="1243.6" r="6.0" fill="#fff" stroke="#000" stroke-width="1.5"/>
<circle cx="144.8" cy="1243.6" r="6.0" fill="#fff" stroke="#000" stroke-width="1.5"/>
<circle cx="152.4" cy="1243.6" r="6.0" fill="#fff" stroke="#000" stroke-width="1.5"/>
<circle cx="159.9" cy="1243.6" r="6.0" fill="#fff" stroke="#000" stroke-width="1.5"/>
<circle cx="167.5" cy="1243.6" r="6.0" fill="#fff" stroke="#000" stroke-width="1.5"/>
<circle cx="175.1" cy="1243.6" r="6.0" fill="#fff" stroke="#000" stroke-width="1.5"/>
<circle cx="182.6" cy="1243.6" r="6.0" fill="#fff" stroke="#000" stroke-width="1.5"/>
<circle cx="190.2" cy="1243.6" r="6.0" fill="#fff" stroke="#000" stroke-width="1.5"/>
<circle cx="197.7" cy="1243.6" r="6.0" fill="#fff" stroke="#000" stroke-width="1.5"/>
<circle cx="205.3" cy="1243.6" r="6.0" fill="#fff" stroke="#000" stroke-width="1.5"/>
<circle cx="212.9" cy="1243.6" r="6.0" fill="#fff" stroke="#000" stroke-width="1.5"/>
<circle cx="220.4" cy="1243.6" r="6.0" fill="#fff" stroke="#000" stroke-width="1.5"/>
<circle cx="228.0" cy="1243.6" r="6.0" fill="#fff" stroke="#000" stroke-width="1.5"/>
<circle cx="235.5" cy="1243.6" r="6.0" fill="#fff" stroke="#000" stroke-width="1.5"/>
<circle cx="243.1" cy="1243.6" r="6.0" fill="#fff" stroke="#000" stroke-width="1.5"/>
<circle cx="250.7" cy="1243.6" r="6.0" fill="#fff" stroke="#000" stroke-width="1.5"/>
<circle cx="258.2" cy="1243.6" r="6.0" fill="#fff" stroke="#000" stroke-width="1.5"/>
<circle cx="265.8" cy="1243.6" r="6.0" fill="#fff" stroke="#000" stroke-width="1.5"/>
<circle cx="273.3" cy="1243.6" r="6.0" fill="#fff" stroke="#000" stroke-width="1.5"/>
<circle cx="280.9" cy="1243.6" r="6.0" fill="#fff" stroke="#000" stroke-width="1.5"/>
<circle cx="288.5" cy="1243.6" r="6.0" fill="#fff" stroke="#000" stroke-width="1.5"/>
<circle cx="296.0" cy="1243.6" r="6.0" fill="#fff" stroke="#000" stroke-width="1.5"/>
<circle cx="303.6" cy="1243.6" r="6.0" fill="#fff" stroke="#000" stroke-width="1.5"/>
<circle cx="311.1" cy="1243.6" r="6.0" fill="#fff" stroke="#000" stroke-width="1.5"/>
<circle cx="318.7" cy="1243.6" r="6.0" fill="#fff" stroke="#000" stroke-width="1.5"/>
<circle cx="326.3" cy="1243.6" r="6.0" fill="#fff" stroke="#000" stroke-width="1.5"/>
<circle cx="333.8" cy="1243.6" r="6.0" fill="#fff" stroke="#000" stroke-width="1.5"/>
<circle cx="341.4" cy="1243.6" r="6.0" fill="#fff" stroke="#000" stroke-width="1.5"/>
<circle cx="348.9" cy="1243.6" r="6.0" fill="#fff" stroke="#000" stroke-width="1.5"/>
<circle cx="356.5" cy="1243.6" r="6.0" fill="#fff" stroke="#000" stroke-width="1.5"/>
<circle cx="364.1" cy="1243.6" r="6.0" fill="#fff" stroke="#000" stroke-width="1.5"/>
<circle cx="371.6" cy="1243.6" r="6.0" fill="#fff" stroke="#000" stroke-width="1.5"/>
<circle cx="379.2" cy="1243.6" r="6.0" fill="#fff" stroke="#000" stroke-width="1.5"/>
<circle cx="386.7" cy="1243.6" r="6.0" fill="#fff" stroke="#000" stroke-width="1.5"/>
<circle cx="394.3" cy="1243.6" r="6.0" fill="#fff" stroke="#000" stroke-width="1.5"/>
<circle cx="401.9" cy="1243.6" r="6.0" fill="#fff" stroke="#000" stroke-width="1.5"/>
<circle cx="409.4" cy="1243.6" r="6.0" fill="#fff" stroke="#000" stroke-width="1.5"/>
<circle cx="417.0" cy="1243.6" r="6.0" fill="#fff" stroke="#000" stroke-width="1.5"/>
<circle cx="424.5" cy="1243.6" r="6.0" fill="#fff" stroke="#000" stroke-width="1.5"/>
<circle cx="432.1" cy="1243.6" r="6.0" fill="#fff" stroke="#000" stroke-width="1.5"/>
<circle cx="439.7" cy="1243.6" r="6.0" fill="#fff" stroke="#000" stroke-width="1.5"/>
<circle cx="447.2" cy="1243.6" r="6.0" fill="#fff" stroke="#000" stroke-width="1.5"/>
<circle cx="454.8" cy="1243.6" r="6.0" fill="#fff" stroke="#000" stroke-width="1.5"/>
<circle cx="462.3" cy="1243.6" r="6.0" fill="#fff" stroke="#000" stroke-width="1.5"/>
<circle cx="469.9" cy="1243.6" r="6.0" fill="#fff" stroke="#000" stroke-width="1.5"/>
<circle cx="477.5" cy="1243.6" r="6.0" fill="#fff" stroke="#000" stroke-width="1.5"/>
<circle cx="485.0" cy="1243.6" r="6.0" fill="#fff" stroke="#000" stroke-width="1.5"/>
<circle cx="492.6" cy="1243.6" r="6.0" fill="#fff" stroke="#000" stroke-width="1.5"/>
<circle cx="500.1" cy="1243.6" r="6.0" fill="#fff" stroke="#000" stroke-width="1.5"/>
<circle cx="507.7" cy="1243.6" r="6.0" fill="#fff" stroke="#000" stroke-width="1.5"/>
<circle cx="515.3" cy="1243.6" r="6.0" fill="#fff" stroke="#000" stroke-width="1.5"/>
<circle cx="522.8" cy="1243.6" r="6.0" fill="#fff" stroke="#000" stroke-width="1.5"/>
<circle cx="530.4" cy="1243.6" r="6.0" fill="#fff" stroke="#000" stroke-width="1.5"/>
<circle cx="537.9" cy="1243.6" r="6.0" fill="#fff" stroke="#000" stroke-width="1.5"/>
<circle cx="545.5" cy="1243.2" r="6.0" fill="#fff" stroke="#000" stroke-width="1.5"/>
<circle cx="552.5" cy="1242.0" r="6.0" fill="#fff" stroke="#000" stroke-width="1.5"/>
<circle cx="560.2" cy="1240.8" r="6.0" fill="#fff" stroke="#000" stroke-width="1.5"/>
<circle cx="567.9" cy="1240.3" r="6.0" fill="#fff" stroke="#000" stroke-width="1.5"/>
<circle cx="575.4" cy="1236.4" r="6.0" fill="#fff" stroke="#000" stroke-width="1.5"/>
<circle cx="582.9" cy="1236.9" r="6.0" fill="#fff" stroke="#000" stroke-width="1.5"/>
<circle cx="590.5" cy="1236.9" r="6.0" fill="#fff" stroke="#000" stroke-width="1.5"/>
<circle cx="598.0" cy="1232.0" r="6.0" fill="#fff" stroke="#000" stroke-width="1.5"/>
<circle cx="605.5" cy="1228.9" r="6.0" fill="#fff" stroke="#000" stroke-width="1.5"/>
<circle cx="613.3" cy="1219.6" r="6.0" fill="#fff" stroke="#000" stroke-width="1.5"/>
<circle cx="620.6" cy="1204.3" r="6.0" fill="#fff" stroke="#000" stroke-width="1.5"/>
<circle cx="628.3" cy="1199.8" r="6.0" fill="#fff" stroke="#000" stroke-width="1.5"/>
<circle cx="635.8" cy="1189.7" r="6.0" fill="#fff" stroke="#000" stroke-width="1.5"/>
<circle cx="643.4" cy="1176.3" r="6.0" fill="#fff" stroke="#000" stroke-width="1.5"/>
<circle cx="650.9" cy="1155.3" r="6.0" fill="#fff" stroke="#000" stroke-width="1.5"/>
<circle cx="658.4" cy="1121.0" r="6.0" fill="#fff" stroke="#000" stroke-width="1.5"/>
<circle cx="665.9" cy="1096.2" r="6.0" fill="#fff" stroke="#000" stroke-width="1.5"/>
<circle cx="673.4" cy="1107.8" r="6.0" fill="#fff" stroke="#000" stroke-width="1.5"/>
<circle cx="680.9" cy="1094.4" r="6.0" fill="#fff" stroke="#000" stroke-width="1.5"/>
<circle cx="688.5" cy="1078.9" r="6.0" fill="#fff" stroke="#000" stroke-width="1.5"/>
<circle cx="696.0" cy="1130.1" r="6.0" fill="#fff" stroke="#000" stroke-width="1.5"/>
<circle cx="703.5" cy="1105.7" r="6.0" fill="#fff" stroke="#000" stroke-width="1.5"/>
<circle cx="711.0" cy="1058.6" r="6.0" fill="#fff" stroke="#000" stroke-width="1.5"/>
<circle cx="718.6" cy="1048.5" r="6.0" fill="#fff" stroke="#000" stroke-width="1.5"/>
<circle cx="726.1" cy="1059.3" r="6.0" fill="#fff" stroke="#000" stroke-width="1.5"/>
<circle cx="733.6" cy="1038.0" r="6.0" fill="#fff" stroke="#000" stroke-width="1.5"/>
<circle cx="741.1" cy="1027.7" r="6.0" fill="#fff" stroke="#000" stroke-width="1.5"/>
<circle cx="748.7" cy="1018.4" r="6.0" fill="#fff" stroke="#000" stroke-width="1.5"/>
<circle cx="756.2" cy="1013.0" r="6.0" fill="#fff" stroke="#000" stroke-width="1.5"/>
<circle cx="763.7" cy="1005.5" r="6.0" fill="#fff" stroke="#000" stroke-width="1.5"/>
<circle cx="771.2" cy="991.3" r="6.0" fill="#fff" stroke="#000" stroke-width="1.5"/>
<circle cx="779.1" cy="970.4" r="6.0" fill="#fff" stroke="#000" stroke-width="1.5"/>
<circle cx="786.7" cy="940.9" r="6.0" fill="#fff" stroke="#000" stroke-width="1.5"/>
<circle cx="794.1" cy="909.1" r="6.0" fill="#fff" stroke="#000" stroke-width="1.5"/>
<circle cx="801.8" cy="879.9" r="6.0" fill="#fff" stroke="#000" stroke-width="1.5"/>
<circle cx="809.0" cy="864.0" r="6.0" fill="#fff" stroke="#000" stroke-width="1.5"/>
<circle cx="816.5" cy="863.0" r="6.0" fill="#fff" stroke="#000" stroke-width="1.5"/>
<circle cx="823.9" cy="861.6" r="6.0" fill="#fff" stroke="#000" stroke-width="1.5"/>
<circle cx="831.6" cy="860.7" r="6.0" fill="#fff" stroke="#000" stroke-width="1.5"/>
<circle cx="839.4" cy="831.8" r="6.0" fill="#fff" stroke="#000" stroke-width="1.5"/>
<circle cx="847.0" cy="846.7" r="6.0" fill="#fff" stroke="#000" stroke-width="1.5"/>
<circle cx="854.4" cy="817.6" r="6.0" fill="#fff" stroke="#000" stroke-width="1.5"/>
<circle cx="862.1" cy="836.3" r="6.0" fill="#fff" stroke="#000" stroke-width="1.5"/>
<circle cx="869.6" cy="848.8" r="6.0" fill="#fff" stroke="#000" stroke-width="1.5"/>
<circle cx="877.0" cy="821.0" r="6.0" fill="#fff" stroke="#000" stroke-width="1.5"/>
<circle cx="884.5" cy="828.5" r="6.0" fill="#fff" stroke="#000" stroke-width="1.5"/>
<circle cx="891.9" cy="823.7" r="6.0" fill="#fff" stroke="#000" stroke-width="1.5"/>
<circle cx="899.4" cy="825.7" r="6.0" fill="#fff" stroke="#000" stroke-width="1.5"/>
<circle cx="907.1" cy="825.1" r="6.0" fill="#fff" stroke="#000" stroke-width="1.5"/>
<circle cx="914.7" cy="819.6" r="6.0" fill="#fff" stroke="#000" stroke-width="1.5"/>
<circle cx="922.0" cy="815.6" r="6.0" fill="#fff" stroke="#000" stroke-width="1.5"/>
<circle cx="929.4" cy="811.5" r="6.0" fill="#fff" stroke="#000" stroke-width="1.5"/>
<circle cx="937.3" cy="811.9" r="6.0" fill="#fff" stroke="#000" stroke-width="1.5"/>
<circle cx="944.8" cy="812.5" r="6.0" fill="#fff" stroke="#000" stroke-width="1.5"/>
<circle cx="952.3" cy="811.3" r="6.0" fill="#fff" stroke="#000" stroke-width="1.5"/>
<circle cx="959.8" cy="810.6" r="6.0" fill="#fff" stroke="#000" stroke-width="1.5"/>
<circle cx="967.5" cy="805.6" r="6.0" fill="#fff" stroke="#000" stroke-width="1.5"/>
<circle cx="975.0" cy="802.8" r="6.0" fill="#fff" stroke="#000" stroke-width="1.5"/>
<circle cx="982.5" cy="800.6" r="6.0" fill="#fff" stroke="#000" stroke-width="1.5"/>
<circle cx="990.0" cy="800.0" r="6.0" fill="#fff" stroke="#000" stroke-width="1.5"/>
<circle cx="997.5" cy="799.4" r="6.0" fill="#fff" stroke="#000" stroke-width="1.5"/>
<circle cx="1005.0" cy="797.3" r="6.0" fill="#fff" stroke="#000" stroke-width="1.5"/>
<circle cx="1012.5" cy="796.3" r="6.0" fill="#fff" stroke="#000" stroke-width="1.5"/>
<circle cx="1020.0" cy="794.0" r="6.0" fill="#fff" stroke="#000" stroke-width="1.5"/>
<circle cx="1026.6" cy="791.0" r="6.0" fill="#fff" stroke="#000" stroke-width="1.5"/>
<rect x="86.4" y="1238.9" width="9.6" height="9.6" fill="#d9d9d9" stroke="#000" stroke-width="1.45"/>
<rect x="93.9" y="1238.9" width="9.6" height="9.6" fill="#d9d9d9" stroke="#000" stroke-width="1.45"/>
<rect x="101.4" y="1238.9" width="9.6" height="9.6" fill="#d9d9d9" stroke="#000" stroke-width="1.45"/>
<rect x="109.0" y="1238.9" width="9.6" height="9.6" fill="#d9d9d9" stroke="#000" stroke-width="1.45"/>
<rect x="116.5" y="1238.9" width="9.6" height="9.6" fill="#d9d9d9" stroke="#000" stroke-width="1.45"/>
<rect x="124.0" y="1238.9" width="9.6" height="9.6" fill="#d9d9d9" stroke="#000" stroke-width="1.45"/>
<rect x="131.5" y="1238.9" width="9.6" height="9.6" fill="#d9d9d9" stroke="#000" stroke-width="1.45"/>
<rect x="139.1" y="1238.9" width="9.6" height="9.6" fill="#d9d9d9" stroke="#000" stroke-width="1.45"/>
<rect x="146.6" y="1238.9" width="9.6" height="9.6" fill="#d9d9d9" stroke="#000" stroke-width="1.45"/>
<rect x="154.1" y="1238.9" width="9.6" height="9.6" fill="#d9d9d9" stroke="#000" stroke-width="1.45"/>
<rect x="161.6" y="1238.9" width="9.6" height="9.6" fill="#d9d9d9" stroke="#000" stroke-width="1.45"/>
<rect x="169.2" y="1238.9" width="9.6" height="9.6" fill="#d9d9d9" stroke="#000" stroke-width="1.45"/>
<rect x="176.7" y="1238.9" width="9.6" height="9.6" fill="#d9d9d9" stroke="#000" stroke-width="1.45"/>
<rect x="184.2" y="1238.9" width="9.6" height="9.6" fill="#d9d9d9" stroke="#000" stroke-width="1.45"/>
<rect x="191.7" y="1238.9" width="9.6" height="9.6" fill="#d9d9d9" stroke="#000" stroke-width="1.45"/>
<rect x="199.2" y="1238.9" width="9.6" height="9.6" fill="#d9d9d9" stroke="#000" stroke-width="1.45"/>
<rect x="206.8" y="1238.9" width="9.6" height="9.6" fill="#d9d9d9" stroke="#000" stroke-width="1.45"/>
<rect x="214.3" y="1238.9" width="9.6" height="9.6" fill="#d9d9d9" stroke="#000" stroke-width="1.45"/>
<rect x="221.8" y="1238.9" width="9.6" height="9.6" fill="#d9d9d9" stroke="#000" stroke-width="1.45"/>
<rect x="229.3" y="1238.9" width="9.6" height="9.6" fill="#d9d9d9" stroke="#000" stroke-width="1.45"/>
<rect x="236.9" y="1238.9" width="9.6" height="9.6" fill="#d9d9d9" stroke="#000" stroke-width="1.45"/>
<rect x="244.4" y="1238.9" width="9.6" height="9.6" fill="#d9d9d9" stroke="#000" stroke-width="1.45"/>
<rect x="251.9" y="1238.9" width="9.6" height="9.6" fill="#d9d9d9" stroke="#000" stroke-width="1.45"/>
<rect x="259.4" y="1238.9" width="9.6" height="9.6" fill="#d9d9d9" stroke="#000" stroke-width="1.45"/>
<rect x="267.0" y="1238.9" width="9.6" height="9.6" fill="#d9d9d9" stroke="#000" stroke-width="1.45"/>
<rect x="274.5" y="1238.9" width="9.6" height="9.6" fill="#d9d9d9" stroke="#000" stroke-width="1.45"/>
<rect x="282.0" y="1238.9" width="9.6" height="9.6" fill="#d9d9d9" stroke="#000" stroke-width="1.45"/>
<rect x="289.5" y="1238.9" width="9.6" height="9.6" fill="#d9d9d9" stroke="#000" stroke-width="1.45"/>
<rect x="297.0" y="1238.9" width="9.6" height="9.6" fill="#d9d9d9" stroke="#000" stroke-width="1.45"/>
<rect x="304.6" y="1238.9" width="9.6" height="9.6" fill="#d9d9d9" stroke="#000" stroke-width="1.45"/>
<rect x="312.1" y="1238.9" width="9.6" height="9.6" fill="#d9d9d9" stroke="#000" stroke-width="1.45"/>
<rect x="320.3" y="1235.2" width="9.6" height="9.6" fill="#d9d9d9" stroke="#000" stroke-width="1.45"/>
<rect x="328.6" y="1231.9" width="9.6" height="9.6" fill="#d9d9d9" stroke="#000" stroke-width="1.45"/>
<rect x="335.8" y="1227.4" width="9.6" height="9.6" fill="#d9d9d9" stroke="#000" stroke-width="1.45"/>
<rect x="343.6" y="1221.4" width="9.6" height="9.6" fill="#d9d9d9" stroke="#000" stroke-width="1.45"/>
<rect x="351.1" y="1212.7" width="9.6" height="9.6" fill="#d9d9d9" stroke="#000" stroke-width="1.45"/>
<rect x="358.6" y="1202.6" width="9.6" height="9.6" fill="#d9d9d9" stroke="#000" stroke-width="1.45"/>
<rect x="366.1" y="1188.7" width="9.6" height="9.6" fill="#d9d9d9" stroke="#000" stroke-width="1.45"/>
<rect x="373.5" y="1167.3" width="9.6" height="9.6" fill="#d9d9d9" stroke="#000" stroke-width="1.45"/>
<rect x="381.0" y="1150.0" width="9.6" height="9.6" fill="#d9d9d9" stroke="#000" stroke-width="1.45"/>
<rect x="388.5" y="1127.0" width="9.6" height="9.6" fill="#d9d9d9" stroke="#000" stroke-width="1.45"/>
<rect x="396.1" y="1100.6" width="9.6" height="9.6" fill="#d9d9d9" stroke="#000" stroke-width="1.45"/>
<rect x="403.6" y="1067.8" width="9.6" height="9.6" fill="#d9d9d9" stroke="#000" stroke-width="1.45"/>
<rect x="411.1" y="1044.9" width="9.6" height="9.6" fill="#d9d9d9" stroke="#000" stroke-width="1.45"/>
<rect x="418.7" y="1014.8" width="9.6" height="9.6" fill="#d9d9d9" stroke="#000" stroke-width="1.45"/>
<rect x="426.3" y="992.0" width="9.6" height="9.6" fill="#d9d9d9" stroke="#000" stroke-width="1.45"/>
<rect x="433.5" y="960.0" width="9.6" height="9.6" fill="#d9d9d9" stroke="#000" stroke-width="1.45"/>
<rect x="441.3" y="933.5" width="9.6" height="9.6" fill="#d9d9d9" stroke="#000" stroke-width="1.45"/>
<rect x="448.7" y="909.3" width="9.6" height="9.6" fill="#d9d9d9" stroke="#000" stroke-width="1.45"/>
<rect x="456.5" y="892.5" width="9.6" height="9.6" fill="#d9d9d9" stroke="#000" stroke-width="1.45"/>
<rect x="463.8" y="869.5" width="9.6" height="9.6" fill="#d9d9d9" stroke="#000" stroke-width="1.45"/>
<rect x="471.2" y="856.5" width="9.6" height="9.6" fill="#d9d9d9" stroke="#000" stroke-width="1.45"/>
<rect x="479.0" y="845.8" width="9.6" height="9.6" fill="#d9d9d9" stroke="#000" stroke-width="1.45"/>
<rect x="486.3" y="841.8" width="9.6" height="9.6" fill="#d9d9d9" stroke="#000" stroke-width="1.45"/>
<rect x="493.7" y="833.2" width="9.6" height="9.6" fill="#d9d9d9" stroke="#000" stroke-width="1.45"/>
<rect x="501.2" y="826.2" width="9.6" height="9.6" fill="#d9d9d9" stroke="#000" stroke-width="1.45"/>
<rect x="508.8" y="823.6" width="9.6" height="9.6" fill="#d9d9d9" stroke="#000" stroke-width="1.45"/>
<rect x="516.2" y="815.9" width="9.6" height="9.6" fill="#d9d9d9" stroke="#000" stroke-width="1.45"/>
<rect x="523.7" y="809.8" width="9.6" height="9.6" fill="#d9d9d9" stroke="#000" stroke-width="1.45"/>
<rect x="531.3" y="805.0" width="9.6" height="9.6" fill="#d9d9d9" stroke="#000" stroke-width="1.45"/>
<rect x="538.7" y="808.1" width="9.6" height="9.6" fill="#d9d9d9" stroke="#000" stroke-width="1.45"/>
<rect x="546.2" y="808.1" width="9.6" height="9.6" fill="#d9d9d9" stroke="#000" stroke-width="1.45"/>
<rect x="552.7" y="804.6" width="9.6" height="9.6" fill="#d9d9d9" stroke="#000" stroke-width="1.45"/>
<rect x="560.8" y="805.8" width="9.6" height="9.6" fill="#d9d9d9" stroke="#000" stroke-width="1.45"/>
<rect x="568.3" y="805.8" width="9.6" height="9.6" fill="#d9d9d9" stroke="#000" stroke-width="1.45"/>
<rect x="575.8" y="800.2" width="9.6" height="9.6" fill="#d9d9d9" stroke="#000" stroke-width="1.45"/>
<rect x="583.3" y="800.0" width="9.6" height="9.6" fill="#d9d9d9" stroke="#000" stroke-width="1.45"/>
<rect x="590.8" y="798.7" width="9.6" height="9.6" fill="#d9d9d9" stroke="#000" stroke-width="1.45"/>
<rect x="598.3" y="796.5" width="9.6" height="9.6" fill="#d9d9d9" stroke="#000" stroke-width="1.45"/>
<rect x="605.8" y="792.5" width="9.6" height="9.6" fill="#d9d9d9" stroke="#000" stroke-width="1.45"/>
<rect x="613.3" y="789.6" width="9.6" height="9.6" fill="#d9d9d9" stroke="#000" stroke-width="1.45"/>
<rect x="620.8" y="791.2" width="9.6" height="9.6" fill="#d9d9d9" stroke="#000" stroke-width="1.45"/>
<rect x="628.7" y="793.1" width="9.6" height="9.6" fill="#d9d9d9" stroke="#000" stroke-width="1.45"/>
<rect x="636.5" y="794.2" width="9.6" height="9.6" fill="#d9d9d9" stroke="#000" stroke-width="1.45"/>
<rect x="643.7" y="791.5" width="9.6" height="9.6" fill="#d9d9d9" stroke="#000" stroke-width="1.45"/>
<rect x="651.2" y="790.0" width="9.6" height="9.6" fill="#d9d9d9" stroke="#000" stroke-width="1.45"/>
<rect x="658.7" y="790.2" width="9.6" height="9.6" fill="#d9d9d9" stroke="#000" stroke-width="1.45"/>
<rect x="666.2" y="790.2" width="9.6" height="9.6" fill="#d9d9d9" stroke="#000" stroke-width="1.45"/>
<rect x="673.7" y="790.5" width="9.6" height="9.6" fill="#d9d9d9" stroke="#000" stroke-width="1.45"/>
<rect x="681.5" y="789.6" width="9.6" height="9.6" fill="#d9d9d9" stroke="#000" stroke-width="1.45"/>
<rect x="688.7" y="793.7" width="9.6" height="9.6" fill="#d9d9d9" stroke="#000" stroke-width="1.45"/>
<rect x="696.2" y="793.3" width="9.6" height="9.6" fill="#d9d9d9" stroke="#000" stroke-width="1.45"/>
<rect x="703.7" y="793.7" width="9.6" height="9.6" fill="#d9d9d9" stroke="#000" stroke-width="1.45"/>
<rect x="711.5" y="795.2" width="9.6" height="9.6" fill="#d9d9d9" stroke="#000" stroke-width="1.45"/>
<rect x="719.0" y="794.2" width="9.6" height="9.6" fill="#d9d9d9" stroke="#000" stroke-width="1.45"/>
<rect x="726.5" y="791.7" width="9.6" height="9.6" fill="#d9d9d9" stroke="#000" stroke-width="1.45"/>
<rect x="734.0" y="791.2" width="9.6" height="9.6" fill="#d9d9d9" stroke="#000" stroke-width="1.45"/>
<rect x="741.5" y="791.8" width="9.6" height="9.6" fill="#d9d9d9" stroke="#000" stroke-width="1.45"/>
<rect x="749.0" y="792.5" width="9.6" height="9.6" fill="#d9d9d9" stroke="#000" stroke-width="1.45"/>
<rect x="756.5" y="795.8" width="9.6" height="9.6" fill="#d9d9d9" stroke="#000" stroke-width="1.45"/>
<rect x="764.2" y="796.5" width="9.6" height="9.6" fill="#d9d9d9" stroke="#000" stroke-width="1.45"/>
<rect x="771.5" y="796.2" width="9.6" height="9.6" fill="#d9d9d9" stroke="#000" stroke-width="1.45"/>
<rect x="779.2" y="795.0" width="9.6" height="9.6" fill="#d9d9d9" stroke="#000" stroke-width="1.45"/>
<rect x="786.5" y="795.8" width="9.6" height="9.6" fill="#d9d9d9" stroke="#000" stroke-width="1.45"/>
<rect x="794.0" y="794.6" width="9.6" height="9.6" fill="#d9d9d9" stroke="#000" stroke-width="1.45"/>
<rect x="801.5" y="794.0" width="9.6" height="9.6" fill="#d9d9d9" stroke="#000" stroke-width="1.45"/>
<rect x="809.0" y="792.7" width="9.6" height="9.6" fill="#d9d9d9" stroke="#000" stroke-width="1.45"/>
<rect x="816.5" y="791.2" width="9.6" height="9.6" fill="#d9d9d9" stroke="#000" stroke-width="1.45"/>
<rect x="824.0" y="791.2" width="9.6" height="9.6" fill="#d9d9d9" stroke="#000" stroke-width="1.45"/>
<rect x="831.5" y="790.2" width="9.6" height="9.6" fill="#d9d9d9" stroke="#000" stroke-width="1.45"/>
<rect x="839.0" y="788.1" width="9.6" height="9.6" fill="#d9d9d9" stroke="#000" stroke-width="1.45"/>
<rect x="846.5" y="787.7" width="9.6" height="9.6" fill="#d9d9d9" stroke="#000" stroke-width="1.45"/>
<rect x="854.0" y="788.1" width="9.6" height="9.6" fill="#d9d9d9" stroke="#000" stroke-width="1.45"/>
<rect x="861.7" y="788.3" width="9.6" height="9.6" fill="#d9d9d9" stroke="#000" stroke-width="1.45"/>
<rect x="869.2" y="788.7" width="9.6" height="9.6" fill="#d9d9d9" stroke="#000" stroke-width="1.45"/>
<rect x="877.1" y="789.0" width="9.6" height="9.6" fill="#d9d9d9" stroke="#000" stroke-width="1.45"/>
<rect x="884.6" y="787.7" width="9.6" height="9.6" fill="#d9d9d9" stroke="#000" stroke-width="1.45"/>
<rect x="892.1" y="789.3" width="9.6" height="9.6" fill="#d9d9d9" stroke="#000" stroke-width="1.45"/>
<rect x="899.6" y="789.0" width="9.6" height="9.6" fill="#d9d9d9" stroke="#000" stroke-width="1.45"/>
<rect x="907.1" y="789.3" width="9.6" height="9.6" fill="#d9d9d9" stroke="#000" stroke-width="1.45"/>
<rect x="914.6" y="789.0" width="9.6" height="9.6" fill="#d9d9d9" stroke="#000" stroke-width="1.45"/>
<rect x="922.1" y="790.0" width="9.6" height="9.6" fill="#d9d9d9" stroke="#000" stroke-width="1.45"/>
<rect x="930.0" y="789.6" width="9.6" height="9.6" fill="#d9d9d9" stroke="#000" stroke-width="1.45"/>
<rect x="937.5" y="791.5" width="9.6" height="9.6" fill="#d9d9d9" stroke="#000" stroke-width="1.45"/>
<rect x="945.0" y="791.5" width="9.6" height="9.6" fill="#d9d9d9" stroke="#000" stroke-width="1.45"/>
<rect x="952.5" y="791.5" width="9.6" height="9.6" fill="#d9d9d9" stroke="#000" stroke-width="1.45"/>
<rect x="960.0" y="788.3" width="9.6" height="9.6" fill="#d9d9d9" stroke="#000" stroke-width="1.45"/>
<rect x="967.5" y="789.6" width="9.6" height="9.6" fill="#d9d9d9" stroke="#000" stroke-width="1.45"/>
<rect x="975.0" y="788.3" width="9.6" height="9.6" fill="#d9d9d9" stroke="#000" stroke-width="1.45"/>
<rect x="982.5" y="787.7" width="9.6" height="9.6" fill="#d9d9d9" stroke="#000" stroke-width="1.45"/>
<rect x="990.2" y="787.7" width="9.6" height="9.6" fill="#d9d9d9" stroke="#000" stroke-width="1.45"/>
<rect x="997.7" y="785.8" width="9.6" height="9.6" fill="#d9d9d9" stroke="#000" stroke-width="1.45"/>
<rect x="1005.2" y="785.8" width="9.6" height="9.6" fill="#d9d9d9" stroke="#000" stroke-width="1.45"/>
<rect x="1013.7" y="781.7" width="9.6" height="9.6" fill="#d9d9d9" stroke="#000" stroke-width="1.45"/>
<rect x="1022.1" y="784.6" width="9.6" height="9.6" fill="#d9d9d9" stroke="#000" stroke-width="1.45"/>
<rect x="88.3" y="786.8" width="939.8" height="461.4000000000001" fill="none" stroke="#262626" stroke-width="1.6"/>
<line x1="95.7" y1="786.8" x2="95.7" y2="796.8" stroke="#262626" stroke-width="1.3"/>
<line x1="95.7" y1="1248.2" x2="95.7" y2="1238.2" stroke="#262626" stroke-width="1.3"/>
<line x1="212.2" y1="786.8" x2="212.2" y2="796.8" stroke="#262626" stroke-width="1.3"/>
<line x1="212.2" y1="1248.2" x2="212.2" y2="1238.2" stroke="#262626" stroke-width="1.3"/>
<line x1="328.7" y1="786.8" x2="328.7" y2="796.8" stroke="#262626" stroke-width="1.3"/>
<line x1="328.7" y1="1248.2" x2="328.7" y2="1238.2" stroke="#262626" stroke-width="1.3"/>
<line x1="445.3" y1="786.8" x2="445.3" y2="796.8" stroke="#262626" stroke-width="1.3"/>
<line x1="445.3" y1="1248.2" x2="445.3" y2="1238.2" stroke="#262626" stroke-width="1.3"/>
<line x1="561.8" y1="786.8" x2="561.8" y2="796.8" stroke="#262626" stroke-width="1.3"/>
<line x1="561.8" y1="1248.2" x2="561.8" y2="1238.2" stroke="#262626" stroke-width="1.3"/>
<line x1="678.3" y1="786.8" x2="678.3" y2="796.8" stroke="#262626" stroke-width="1.3"/>
<line x1="678.3" y1="1248.2" x2="678.3" y2="1238.2" stroke="#262626" stroke-width="1.3"/>
<line x1="794.8" y1="786.8" x2="794.8" y2="796.8" stroke="#262626" stroke-width="1.3"/>
<line x1="794.8" y1="1248.2" x2="794.8" y2="1238.2" stroke="#262626" stroke-width="1.3"/>
<line x1="911.3" y1="786.8" x2="911.3" y2="796.8" stroke="#262626" stroke-width="1.3"/>
<line x1="911.3" y1="1248.2" x2="911.3" y2="1238.2" stroke="#262626" stroke-width="1.3"/>
<line x1="88.3" y1="1243.7" x2="98.3" y2="1243.7" stroke="#262626" stroke-width="1.3"/>
<line x1="1028.1" y1="1243.7" x2="1018.0999999999999" y2="1243.7" stroke="#262626" stroke-width="1.3"/>
<line x1="88.3" y1="1152.3" x2="98.3" y2="1152.3" stroke="#262626" stroke-width="1.3"/>
<line x1="1028.1" y1="1152.3" x2="1018.0999999999999" y2="1152.3" stroke="#262626" stroke-width="1.3"/>
<line x1="88.3" y1="1060.9" x2="98.3" y2="1060.9" stroke="#262626" stroke-width="1.3"/>
<line x1="1028.1" y1="1060.9" x2="1018.0999999999999" y2="1060.9" stroke="#262626" stroke-width="1.3"/>
<line x1="88.3" y1="969.6" x2="98.3" y2="969.6" stroke="#262626" stroke-width="1.3"/>
<line x1="1028.1" y1="969.6" x2="1018.0999999999999" y2="969.6" stroke="#262626" stroke-width="1.3"/>
<line x1="88.3" y1="878.2" x2="98.3" y2="878.2" stroke="#262626" stroke-width="1.3"/>
<line x1="1028.1" y1="878.2" x2="1018.0999999999999" y2="878.2" stroke="#262626" stroke-width="1.3"/>
<line x1="88.3" y1="786.8" x2="98.3" y2="786.8" stroke="#262626" stroke-width="1.3"/>
<line x1="1028.1" y1="786.8" x2="1018.0999999999999" y2="786.8" stroke="#262626" stroke-width="1.3"/>
<rect x="343.6" y="1221.4" width="9.6" height="9.6" fill="#EDB120" stroke="#000" stroke-width="1.45"/>
<rect x="433.5" y="960.0" width="9.6" height="9.6" fill="#77AC30" stroke="#000" stroke-width="1.45"/>
<circle cx="605.5" cy="1228.9" r="6.0" fill="#EDB120" stroke="#000" stroke-width="1.5"/>
<circle cx="779.1" cy="970.4" r="6.0" fill="#77AC30" stroke="#000" stroke-width="1.5"/>
<line x1="348.4" y1="779.7" x2="348.4" y2="1226.2" stroke="#000" stroke-width="1.4" stroke-dasharray="11.5,6"/>
<line x1="605.5" y1="779.7" x2="605.5" y2="1228.9" stroke="#000" stroke-width="1.4" stroke-dasharray="11.5,6"/>
<line x1="438.4" y1="771.6" x2="438.4" y2="964.8" stroke="#000" stroke-width="1.4" stroke-dasharray="5.2,2.8"/>
<line x1="779.2" y1="771.6" x2="779.2" y2="970.4" stroke="#000" stroke-width="1.4" stroke-dasharray="5.2,2.8"/>
<line x1="357.6" y1="779.7" x2="596.3" y2="779.7" stroke="#EDB120" stroke-width="1.6"/>
<path d="M348.4,779.7 L358.6,774.8 L358.6,784.6 Z" fill="#EDB120"/>
<path d="M605.5,779.7 L595.3,774.8 L595.3,784.6 Z" fill="#EDB120"/>
<line x1="447.6" y1="771.6" x2="770.0" y2="771.6" stroke="#77AC30" stroke-width="1.6"/>
<path d="M438.4,771.6 L448.6,766.7 L448.6,776.5 Z" fill="#77AC30"/>
<path d="M779.2,771.6 L769.0,766.7 L769.0,776.5 Z" fill="#77AC30"/>
<rect x="88.3" y="786.8" width="86.00000000000001" height="30.300000000000068" fill="#fff" stroke="#000" stroke-width="1.4"/>
<text x="93.8" y="811.6" font-size="26.8" fill="#000">129°C</text>
<rect x="746" y="1165.2" width="281.9000000000001" height="83.0" fill="#fff" stroke="#262626" stroke-width="1.5"/>
<circle cx="783.5" cy="1186.7" r="10.8" fill="#fff" stroke="#000" stroke-width="1.5"/>
<rect x="774.9" y="1217.4" width="17.2" height="17.2" fill="#d9d9d9" stroke="#000" stroke-width="1.5"/>
<text x="820.6" y="1198.8" font-size="29.3" fill="#000">Low pre-stress</text>
<text x="820.6" y="1237.8" font-size="29.3" fill="#000">High pre-stress</text>
<text x="95.7" y="1288.6" font-size="34" text-anchor="middle" fill="#000">500</text>
<text x="212.2" y="1288.6" font-size="34" text-anchor="middle" fill="#000">1000</text>
<text x="328.7" y="1288.6" font-size="34" text-anchor="middle" fill="#000">1500</text>
<text x="445.3" y="1288.6" font-size="34" text-anchor="middle" fill="#000">2000</text>
<text x="561.8" y="1288.6" font-size="34" text-anchor="middle" fill="#000">2500</text>
<text x="678.3" y="1288.6" font-size="34" text-anchor="middle" fill="#000">3000</text>
<text x="794.8" y="1288.6" font-size="34" text-anchor="middle" fill="#000">3500</text>
<text x="911.3" y="1288.6" font-size="34" text-anchor="middle" fill="#000">4000</text>
<text x="83.6" y="1253.4" font-size="34.5" text-anchor="end" fill="#262626">0</text>
<text x="83.6" y="1162.0" font-size="34.5" text-anchor="end" fill="#262626">0.2</text>
<text x="83.6" y="1070.6" font-size="34.5" text-anchor="end" fill="#262626">0.4</text>
<text x="83.6" y="979.3" font-size="34.5" text-anchor="end" fill="#262626">0.6</text>
<text x="83.6" y="887.9" font-size="34.5" text-anchor="end" fill="#262626">0.8</text>
<text x="83.6" y="796.5" font-size="34.5" text-anchor="end" fill="#262626">1</text>
<line x1="1061.4" y1="788.4" x2="1061.4" y2="1249.5" stroke="#e3e3e3" stroke-width="1.2"/>
<line x1="1177.9" y1="788.4" x2="1177.9" y2="1249.5" stroke="#e3e3e3" stroke-width="1.2"/>
<line x1="1294.4" y1="788.4" x2="1294.4" y2="1249.5" stroke="#e3e3e3" stroke-width="1.2"/>
<line x1="1411.0" y1="788.4" x2="1411.0" y2="1249.5" stroke="#e3e3e3" stroke-width="1.2"/>
<line x1="1527.5" y1="788.4" x2="1527.5" y2="1249.5" stroke="#e3e3e3" stroke-width="1.2"/>
<line x1="1644.0" y1="788.4" x2="1644.0" y2="1249.5" stroke="#e3e3e3" stroke-width="1.2"/>
<line x1="1760.5" y1="788.4" x2="1760.5" y2="1249.5" stroke="#e3e3e3" stroke-width="1.2"/>
<line x1="1877.0" y1="788.4" x2="1877.0" y2="1249.5" stroke="#e3e3e3" stroke-width="1.2"/>
<line x1="1054.2" y1="1244.9" x2="1993.4" y2="1244.9" stroke="#e3e3e3" stroke-width="1.2"/>
<line x1="1054.2" y1="1153.6" x2="1993.4" y2="1153.6" stroke="#e3e3e3" stroke-width="1.2"/>
<line x1="1054.2" y1="1062.3" x2="1993.4" y2="1062.3" stroke="#e3e3e3" stroke-width="1.2"/>
<line x1="1054.2" y1="971.0" x2="1993.4" y2="971.0" stroke="#e3e3e3" stroke-width="1.2"/>
<line x1="1054.2" y1="879.7" x2="1993.4" y2="879.7" stroke="#e3e3e3" stroke-width="1.2"/>
<circle cx="1055.8" cy="1244.9" r="6.0" fill="#fff" stroke="#000" stroke-width="1.5"/>
<circle cx="1063.8" cy="1244.9" r="6.0" fill="#fff" stroke="#000" stroke-width="1.5"/>
<circle cx="1071.7" cy="1244.9" r="6.0" fill="#fff" stroke="#000" stroke-width="1.5"/>
<circle cx="1079.7" cy="1244.9" r="6.0" fill="#fff" stroke="#000" stroke-width="1.5"/>
<circle cx="1087.7" cy="1244.9" r="6.0" fill="#fff" stroke="#000" stroke-width="1.5"/>
<circle cx="1095.6" cy="1244.9" r="6.0" fill="#fff" stroke="#000" stroke-width="1.5"/>
<circle cx="1103.6" cy="1244.9" r="6.0" fill="#fff" stroke="#000" stroke-width="1.5"/>
<circle cx="1111.6" cy="1244.9" r="6.0" fill="#fff" stroke="#000" stroke-width="1.5"/>
<circle cx="1119.6" cy="1244.9" r="6.0" fill="#fff" stroke="#000" stroke-width="1.5"/>
<circle cx="1127.5" cy="1244.9" r="6.0" fill="#fff" stroke="#000" stroke-width="1.5"/>
<circle cx="1135.5" cy="1244.9" r="6.0" fill="#fff" stroke="#000" stroke-width="1.5"/>
<circle cx="1143.5" cy="1244.9" r="6.0" fill="#fff" stroke="#000" stroke-width="1.5"/>
<circle cx="1151.4" cy="1244.9" r="6.0" fill="#fff" stroke="#000" stroke-width="1.5"/>
<circle cx="1159.4" cy="1244.9" r="6.0" fill="#fff" stroke="#000" stroke-width="1.5"/>
<circle cx="1167.4" cy="1244.9" r="6.0" fill="#fff" stroke="#000" stroke-width="1.5"/>
<circle cx="1175.3" cy="1244.9" r="6.0" fill="#fff" stroke="#000" stroke-width="1.5"/>
<circle cx="1183.3" cy="1244.9" r="6.0" fill="#fff" stroke="#000" stroke-width="1.5"/>
<circle cx="1191.3" cy="1244.9" r="6.0" fill="#fff" stroke="#000" stroke-width="1.5"/>
<circle cx="1199.3" cy="1244.9" r="6.0" fill="#fff" stroke="#000" stroke-width="1.5"/>
<circle cx="1207.2" cy="1244.9" r="6.0" fill="#fff" stroke="#000" stroke-width="1.5"/>
<circle cx="1215.2" cy="1244.9" r="6.0" fill="#fff" stroke="#000" stroke-width="1.5"/>
<circle cx="1223.2" cy="1244.9" r="6.0" fill="#fff" stroke="#000" stroke-width="1.5"/>
<circle cx="1231.1" cy="1244.9" r="6.0" fill="#fff" stroke="#000" stroke-width="1.5"/>
<circle cx="1239.1" cy="1244.9" r="6.0" fill="#fff" stroke="#000" stroke-width="1.5"/>
<circle cx="1247.1" cy="1244.9" r="6.0" fill="#fff" stroke="#000" stroke-width="1.5"/>
<circle cx="1255.0" cy="1244.9" r="6.0" fill="#fff" stroke="#000" stroke-width="1.5"/>
<circle cx="1263.0" cy="1244.9" r="6.0" fill="#fff" stroke="#000" stroke-width="1.5"/>
<circle cx="1271.9" cy="1242.8" r="6.0" fill="#fff" stroke="#000" stroke-width="1.5"/>
<circle cx="1279.9" cy="1239.9" r="6.0" fill="#fff" stroke="#000" stroke-width="1.5"/>
<circle cx="1287.8" cy="1237.7" r="6.0" fill="#fff" stroke="#000" stroke-width="1.5"/>
<circle cx="1296.0" cy="1233.6" r="6.0" fill="#fff" stroke="#000" stroke-width="1.5"/>
<circle cx="1303.8" cy="1223.3" r="6.0" fill="#fff" stroke="#000" stroke-width="1.5"/>
<circle cx="1312.3" cy="1220.1" r="6.0" fill="#fff" stroke="#000" stroke-width="1.5"/>
<circle cx="1320.1" cy="1215.6" r="6.0" fill="#fff" stroke="#000" stroke-width="1.5"/>
<circle cx="1327.9" cy="1209.5" r="6.0" fill="#fff" stroke="#000" stroke-width="1.5"/>
<circle cx="1335.9" cy="1201.3" r="6.0" fill="#fff" stroke="#000" stroke-width="1.5"/>
<circle cx="1343.9" cy="1190.3" r="6.0" fill="#fff" stroke="#000" stroke-width="1.5"/>
<circle cx="1352.0" cy="1176.9" r="6.0" fill="#fff" stroke="#000" stroke-width="1.5"/>
<circle cx="1360.0" cy="1160.6" r="6.0" fill="#fff" stroke="#000" stroke-width="1.5"/>
<circle cx="1368.0" cy="1139.9" r="6.0" fill="#fff" stroke="#000" stroke-width="1.5"/>
<circle cx="1375.8" cy="1116.7" r="6.0" fill="#fff" stroke="#000" stroke-width="1.5"/>
<circle cx="1383.6" cy="1088.8" r="6.0" fill="#fff" stroke="#000" stroke-width="1.5"/>
<circle cx="1391.6" cy="1057.0" r="6.0" fill="#fff" stroke="#000" stroke-width="1.5"/>
<circle cx="1399.5" cy="1023.9" r="6.0" fill="#fff" stroke="#000" stroke-width="1.5"/>
<circle cx="1407.5" cy="989.6" r="6.0" fill="#fff" stroke="#000" stroke-width="1.5"/>
<circle cx="1415.8" cy="956.2" r="6.0" fill="#fff" stroke="#000" stroke-width="1.5"/>
<circle cx="1423.6" cy="923.5" r="6.0" fill="#fff" stroke="#000" stroke-width="1.5"/>
<circle cx="1431.6" cy="897.3" r="6.0" fill="#fff" stroke="#000" stroke-width="1.5"/>
<circle cx="1439.6" cy="872.2" r="6.0" fill="#fff" stroke="#000" stroke-width="1.5"/>
<circle cx="1447.8" cy="854.2" r="6.0" fill="#fff" stroke="#000" stroke-width="1.5"/>
<circle cx="1455.5" cy="839.0" r="6.0" fill="#fff" stroke="#000" stroke-width="1.5"/>
<circle cx="1463.5" cy="825.5" r="6.0" fill="#fff" stroke="#000" stroke-width="1.5"/>
<circle cx="1471.5" cy="818.5" r="6.0" fill="#fff" stroke="#000" stroke-width="1.5"/>
<circle cx="1479.3" cy="813.0" r="6.0" fill="#fff" stroke="#000" stroke-width="1.5"/>
<circle cx="1487.3" cy="809.2" r="6.0" fill="#fff" stroke="#000" stroke-width="1.5"/>
<circle cx="1495.0" cy="806.2" r="6.0" fill="#fff" stroke="#000" stroke-width="1.5"/>
<circle cx="1503.0" cy="803.8" r="6.0" fill="#fff" stroke="#000" stroke-width="1.5"/>
<circle cx="1511.0" cy="802.8" r="6.0" fill="#fff" stroke="#000" stroke-width="1.5"/>
<circle cx="1519.0" cy="802.2" r="6.0" fill="#fff" stroke="#000" stroke-width="1.5"/>
<circle cx="1527.0" cy="801.2" r="6.0" fill="#fff" stroke="#000" stroke-width="1.5"/>
<circle cx="1535.0" cy="800.5" r="6.0" fill="#fff" stroke="#000" stroke-width="1.5"/>
<circle cx="1543.0" cy="799.8" r="6.0" fill="#fff" stroke="#000" stroke-width="1.5"/>
<circle cx="1551.2" cy="798.8" r="6.0" fill="#fff" stroke="#000" stroke-width="1.5"/>
<circle cx="1559.0" cy="798.5" r="6.0" fill="#fff" stroke="#000" stroke-width="1.5"/>
<circle cx="1567.0" cy="798.0" r="6.0" fill="#fff" stroke="#000" stroke-width="1.5"/>
<circle cx="1575.0" cy="797.2" r="6.0" fill="#fff" stroke="#000" stroke-width="1.5"/>
<circle cx="1583.0" cy="797.2" r="6.0" fill="#fff" stroke="#000" stroke-width="1.5"/>
<circle cx="1590.0" cy="797.0" r="6.0" fill="#fff" stroke="#000" stroke-width="1.5"/>
<circle cx="1598.0" cy="796.6" r="6.0" fill="#fff" stroke="#000" stroke-width="1.5"/>
<circle cx="1606.0" cy="796.1" r="6.0" fill="#fff" stroke="#000" stroke-width="1.5"/>
<circle cx="1614.0" cy="795.7" r="6.0" fill="#fff" stroke="#000" stroke-width="1.5"/>
<circle cx="1622.0" cy="795.4" r="6.0" fill="#fff" stroke="#000" stroke-width="1.5"/>
<circle cx="1630.0" cy="795.0" r="6.0" fill="#fff" stroke="#000" stroke-width="1.5"/>
<circle cx="1638.0" cy="794.7" r="6.0" fill="#fff" stroke="#000" stroke-width="1.5"/>
<circle cx="1646.0" cy="794.4" r="6.0" fill="#fff" stroke="#000" stroke-width="1.5"/>
<circle cx="1654.0" cy="794.0" r="6.0" fill="#fff" stroke="#000" stroke-width="1.5"/>
<circle cx="1662.0" cy="793.8" r="6.0" fill="#fff" stroke="#000" stroke-width="1.5"/>
<circle cx="1670.0" cy="793.5" r="6.0" fill="#fff" stroke="#000" stroke-width="1.5"/>
<circle cx="1677.9" cy="793.2" r="6.0" fill="#fff" stroke="#000" stroke-width="1.5"/>
<circle cx="1685.9" cy="793.0" r="6.0" fill="#fff" stroke="#000" stroke-width="1.5"/>
<circle cx="1693.9" cy="792.8" r="6.0" fill="#fff" stroke="#000" stroke-width="1.5"/>
<circle cx="1701.9" cy="792.5" r="6.0" fill="#fff" stroke="#000" stroke-width="1.5"/>
<circle cx="1709.9" cy="792.3" r="6.0" fill="#fff" stroke="#000" stroke-width="1.5"/>
<circle cx="1717.9" cy="792.1" r="6.0" fill="#fff" stroke="#000" stroke-width="1.5"/>
<circle cx="1725.9" cy="791.9" r="6.0" fill="#fff" stroke="#000" stroke-width="1.5"/>
<circle cx="1733.9" cy="791.8" r="6.0" fill="#fff" stroke="#000" stroke-width="1.5"/>
<circle cx="1741.9" cy="791.6" r="6.0" fill="#fff" stroke="#000" stroke-width="1.5"/>
<circle cx="1749.9" cy="791.4" r="6.0" fill="#fff" stroke="#000" stroke-width="1.5"/>
<circle cx="1757.9" cy="791.3" r="6.0" fill="#fff" stroke="#000" stroke-width="1.5"/>
<circle cx="1765.9" cy="791.1" r="6.0" fill="#fff" stroke="#000" stroke-width="1.5"/>
<circle cx="1773.9" cy="791.0" r="6.0" fill="#fff" stroke="#000" stroke-width="1.5"/>
<circle cx="1781.9" cy="790.9" r="6.0" fill="#fff" stroke="#000" stroke-width="1.5"/>
<circle cx="1789.9" cy="790.7" r="6.0" fill="#fff" stroke="#000" stroke-width="1.5"/>
<circle cx="1797.9" cy="790.6" r="6.0" fill="#fff" stroke="#000" stroke-width="1.5"/>
<circle cx="1805.9" cy="790.5" r="6.0" fill="#fff" stroke="#000" stroke-width="1.5"/>
<circle cx="1813.9" cy="790.4" r="6.0" fill="#fff" stroke="#000" stroke-width="1.5"/>
<circle cx="1821.9" cy="790.3" r="6.0" fill="#fff" stroke="#000" stroke-width="1.5"/>
<circle cx="1829.8" cy="790.2" r="6.0" fill="#fff" stroke="#000" stroke-width="1.5"/>
<circle cx="1837.8" cy="790.1" r="6.0" fill="#fff" stroke="#000" stroke-width="1.5"/>
<circle cx="1845.8" cy="790.0" r="6.0" fill="#fff" stroke="#000" stroke-width="1.5"/>
<circle cx="1853.8" cy="790.0" r="6.0" fill="#fff" stroke="#000" stroke-width="1.5"/>
<circle cx="1861.8" cy="789.9" r="6.0" fill="#fff" stroke="#000" stroke-width="1.5"/>
<circle cx="1869.8" cy="789.8" r="6.0" fill="#fff" stroke="#000" stroke-width="1.5"/>
<circle cx="1877.8" cy="789.7" r="6.0" fill="#fff" stroke="#000" stroke-width="1.5"/>
<circle cx="1885.8" cy="789.7" r="6.0" fill="#fff" stroke="#000" stroke-width="1.5"/>
<circle cx="1893.8" cy="789.6" r="6.0" fill="#fff" stroke="#000" stroke-width="1.5"/>
<circle cx="1901.8" cy="789.6" r="6.0" fill="#fff" stroke="#000" stroke-width="1.5"/>
<circle cx="1909.8" cy="789.5" r="6.0" fill="#fff" stroke="#000" stroke-width="1.5"/>
<circle cx="1917.8" cy="789.5" r="6.0" fill="#fff" stroke="#000" stroke-width="1.5"/>
<circle cx="1925.8" cy="789.4" r="6.0" fill="#fff" stroke="#000" stroke-width="1.5"/>
<circle cx="1933.8" cy="789.4" r="6.0" fill="#fff" stroke="#000" stroke-width="1.5"/>
<circle cx="1941.8" cy="789.3" r="6.0" fill="#fff" stroke="#000" stroke-width="1.5"/>
<circle cx="1949.8" cy="789.3" r="6.0" fill="#fff" stroke="#000" stroke-width="1.5"/>
<circle cx="1957.8" cy="789.2" r="6.0" fill="#fff" stroke="#000" stroke-width="1.5"/>
<circle cx="1965.8" cy="789.2" r="6.0" fill="#fff" stroke="#000" stroke-width="1.5"/>
<circle cx="1973.8" cy="789.2" r="6.0" fill="#fff" stroke="#000" stroke-width="1.5"/>
<circle cx="1981.8" cy="789.1" r="6.0" fill="#fff" stroke="#000" stroke-width="1.5"/>
<circle cx="1989.8" cy="789.1" r="6.0" fill="#fff" stroke="#000" stroke-width="1.5"/>
<rect x="1052.3" y="1240.1" width="9.6" height="9.6" fill="#dbd7cf" stroke="#000" stroke-width="1.45"/>
<rect x="1059.5" y="1240.1" width="9.6" height="9.6" fill="#dbd7cf" stroke="#000" stroke-width="1.45"/>
<rect x="1066.7" y="1240.1" width="9.6" height="9.6" fill="#dbd7cf" stroke="#000" stroke-width="1.45"/>
<rect x="1073.9" y="1240.1" width="9.6" height="9.6" fill="#dbd7cf" stroke="#000" stroke-width="1.45"/>
<rect x="1081.1" y="1240.1" width="9.6" height="9.6" fill="#dbd7cf" stroke="#000" stroke-width="1.45"/>
<rect x="1088.3" y="1240.1" width="9.6" height="9.6" fill="#dbd7cf" stroke="#000" stroke-width="1.45"/>
<rect x="1095.5" y="1240.1" width="9.6" height="9.6" fill="#dbd7cf" stroke="#000" stroke-width="1.45"/>
<rect x="1102.7" y="1240.1" width="9.6" height="9.6" fill="#dbd7cf" stroke="#000" stroke-width="1.45"/>
<rect x="1109.9" y="1240.1" width="9.6" height="9.6" fill="#dbd7cf" stroke="#000" stroke-width="1.45"/>
<rect x="1117.1" y="1240.1" width="9.6" height="9.6" fill="#dbd7cf" stroke="#000" stroke-width="1.45"/>
<rect x="1124.3" y="1240.1" width="9.6" height="9.6" fill="#dbd7cf" stroke="#000" stroke-width="1.45"/>
<rect x="1131.5" y="1240.1" width="9.6" height="9.6" fill="#dbd7cf" stroke="#000" stroke-width="1.45"/>
<rect x="1138.7" y="1240.1" width="9.6" height="9.6" fill="#dbd7cf" stroke="#000" stroke-width="1.45"/>
<rect x="1145.9" y="1240.1" width="9.6" height="9.6" fill="#dbd7cf" stroke="#000" stroke-width="1.45"/>
<rect x="1152.9" y="1235.8" width="9.6" height="9.6" fill="#dbd7cf" stroke="#000" stroke-width="1.45"/>
<rect x="1160.1" y="1223.0" width="9.6" height="9.6" fill="#dbd7cf" stroke="#000" stroke-width="1.45"/>
<rect x="1167.0" y="1186.0" width="9.6" height="9.6" fill="#dbd7cf" stroke="#000" stroke-width="1.45"/>
<rect x="1174.6" y="1132.5" width="9.6" height="9.6" fill="#dbd7cf" stroke="#000" stroke-width="1.45"/>
<rect x="1181.3" y="1056.4" width="9.6" height="9.6" fill="#dbd7cf" stroke="#000" stroke-width="1.45"/>
<rect x="1188.6" y="961.6" width="9.6" height="9.6" fill="#dbd7cf" stroke="#000" stroke-width="1.45"/>
<rect x="1195.8" y="892.0" width="9.6" height="9.6" fill="#dbd7cf" stroke="#000" stroke-width="1.45"/>
<rect x="1202.7" y="852.4" width="9.6" height="9.6" fill="#dbd7cf" stroke="#000" stroke-width="1.45"/>
<rect x="1208.3" y="821.2" width="9.6" height="9.6" fill="#dbd7cf" stroke="#000" stroke-width="1.45"/>
<rect x="1215.4" y="820.8" width="9.6" height="9.6" fill="#dbd7cf" stroke="#000" stroke-width="1.45"/>
<rect x="1222.4" y="820.4" width="9.6" height="9.6" fill="#dbd7cf" stroke="#000" stroke-width="1.45"/>
<rect x="1229.5" y="821.7" width="9.6" height="9.6" fill="#dbd7cf" stroke="#000" stroke-width="1.45"/>
<rect x="1236.7" y="818.3" width="9.6" height="9.6" fill="#dbd7cf" stroke="#000" stroke-width="1.45"/>
<rect x="1243.9" y="817.4" width="9.6" height="9.6" fill="#dbd7cf" stroke="#000" stroke-width="1.45"/>
<rect x="1251.2" y="817.1" width="9.6" height="9.6" fill="#dbd7cf" stroke="#000" stroke-width="1.45"/>
<rect x="1258.3" y="815.8" width="9.6" height="9.6" fill="#dbd7cf" stroke="#000" stroke-width="1.45"/>
<rect x="1265.4" y="814.2" width="9.6" height="9.6" fill="#dbd7cf" stroke="#000" stroke-width="1.45"/>
<rect x="1272.6" y="813.3" width="9.6" height="9.6" fill="#dbd7cf" stroke="#000" stroke-width="1.45"/>
<rect x="1279.5" y="812.9" width="9.6" height="9.6" fill="#dbd7cf" stroke="#000" stroke-width="1.45"/>
<rect x="1286.6" y="812.1" width="9.6" height="9.6" fill="#dbd7cf" stroke="#000" stroke-width="1.45"/>
<rect x="1293.6" y="811.4" width="9.6" height="9.6" fill="#dbd7cf" stroke="#000" stroke-width="1.45"/>
<rect x="1300.7" y="811.7" width="9.6" height="9.6" fill="#dbd7cf" stroke="#000" stroke-width="1.45"/>
<rect x="1307.9" y="809.6" width="9.6" height="9.6" fill="#dbd7cf" stroke="#000" stroke-width="1.45"/>
<rect x="1314.9" y="808.9" width="9.6" height="9.6" fill="#dbd7cf" stroke="#000" stroke-width="1.45"/>
<rect x="1322.0" y="807.4" width="9.6" height="9.6" fill="#dbd7cf" stroke="#000" stroke-width="1.45"/>
<rect x="1328.9" y="807.1" width="9.6" height="9.6" fill="#dbd7cf" stroke="#000" stroke-width="1.45"/>
<rect x="1336.1" y="806.4" width="9.6" height="9.6" fill="#dbd7cf" stroke="#000" stroke-width="1.45"/>
<rect x="1343.2" y="805.8" width="9.6" height="9.6" fill="#dbd7cf" stroke="#000" stroke-width="1.45"/>
<rect x="1350.1" y="804.9" width="9.6" height="9.6" fill="#dbd7cf" stroke="#000" stroke-width="1.45"/>
<rect x="1357.3" y="803.7" width="9.6" height="9.6" fill="#dbd7cf" stroke="#000" stroke-width="1.45"/>
<rect x="1364.5" y="803.3" width="9.6" height="9.6" fill="#dbd7cf" stroke="#000" stroke-width="1.45"/>
<rect x="1371.6" y="802.1" width="9.6" height="9.6" fill="#dbd7cf" stroke="#000" stroke-width="1.45"/>
<rect x="1378.6" y="801.7" width="9.6" height="9.6" fill="#dbd7cf" stroke="#000" stroke-width="1.45"/>
<rect x="1385.7" y="800.2" width="9.6" height="9.6" fill="#dbd7cf" stroke="#000" stroke-width="1.45"/>
<rect x="1393.2" y="798.7" width="9.6" height="9.6" fill="#dbd7cf" stroke="#000" stroke-width="1.45"/>
<rect x="1400.2" y="798.7" width="9.6" height="9.6" fill="#dbd7cf" stroke="#000" stroke-width="1.45"/>
<rect x="1407.2" y="798.4" width="9.6" height="9.6" fill="#dbd7cf" stroke="#000" stroke-width="1.45"/>
<rect x="1414.2" y="797.7" width="9.6" height="9.6" fill="#dbd7cf" stroke="#000" stroke-width="1.45"/>
<rect x="1421.4" y="796.2" width="9.6" height="9.6" fill="#dbd7cf" stroke="#000" stroke-width="1.45"/>
<rect x="1428.7" y="795.7" width="9.6" height="9.6" fill="#dbd7cf" stroke="#000" stroke-width="1.45"/>
<rect x="1435.7" y="794.7" width="9.6" height="9.6" fill="#dbd7cf" stroke="#000" stroke-width="1.45"/>
<rect x="1442.7" y="793.0" width="9.6" height="9.6" fill="#dbd7cf" stroke="#000" stroke-width="1.45"/>
<rect x="1449.7" y="792.7" width="9.6" height="9.6" fill="#dbd7cf" stroke="#000" stroke-width="1.45"/>
<rect x="1456.7" y="792.2" width="9.6" height="9.6" fill="#dbd7cf" stroke="#000" stroke-width="1.45"/>
<rect x="1463.7" y="791.2" width="9.6" height="9.6" fill="#dbd7cf" stroke="#000" stroke-width="1.45"/>
<rect x="1471.2" y="790.2" width="9.6" height="9.6" fill="#dbd7cf" stroke="#000" stroke-width="1.45"/>
<rect x="1478.2" y="790.0" width="9.6" height="9.6" fill="#dbd7cf" stroke="#000" stroke-width="1.45"/>
<rect x="1485.2" y="789.2" width="9.6" height="9.6" fill="#dbd7cf" stroke="#000" stroke-width="1.45"/>
<rect x="1492.7" y="787.7" width="9.6" height="9.6" fill="#dbd7cf" stroke="#000" stroke-width="1.45"/>
<rect x="1499.7" y="786.7" width="9.6" height="9.6" fill="#dbd7cf" stroke="#000" stroke-width="1.45"/>
<rect x="1507.0" y="786.2" width="9.6" height="9.6" fill="#dbd7cf" stroke="#000" stroke-width="1.45"/>
<rect x="1514.2" y="786.2" width="9.6" height="9.6" fill="#dbd7cf" stroke="#000" stroke-width="1.45"/>
<rect x="1521.2" y="785.7" width="9.6" height="9.6" fill="#dbd7cf" stroke="#000" stroke-width="1.45"/>
<rect x="1528.2" y="786.2" width="9.6" height="9.6" fill="#dbd7cf" stroke="#000" stroke-width="1.45"/>
<rect x="1536.7" y="782.7" width="9.6" height="9.6" fill="#dbd7cf" stroke="#000" stroke-width="1.45"/>
<rect x="1054.2" y="788.4" width="939.2" height="461.1" fill="none" stroke="#262626" stroke-width="1.6"/>
<line x1="1061.4" y1="788.4" x2="1061.4" y2="798.4" stroke="#262626" stroke-width="1.3"/>
<line x1="1061.4" y1="1249.5" x2="1061.4" y2="1239.5" stroke="#262626" stroke-width="1.3"/>
<line x1="1177.9" y1="788.4" x2="1177.9" y2="798.4" stroke="#262626" stroke-width="1.3"/>
<line x1="1177.9" y1="1249.5" x2="1177.9" y2="1239.5" stroke="#262626" stroke-width="1.3"/>
<line x1="1294.4" y1="788.4" x2="1294.4" y2="798.4" stroke="#262626" stroke-width="1.3"/>
<line x1="1294.4" y1="1249.5" x2="1294.4" y2="1239.5" stroke="#262626" stroke-width="1.3"/>
<line x1="1411.0" y1="788.4" x2="1411.0" y2="798.4" stroke="#262626" stroke-width="1.3"/>
<line x1="1411.0" y1="1249.5" x2="1411.0" y2="1239.5" stroke="#262626" stroke-width="1.3"/>
<line x1="1527.5" y1="788.4" x2="1527.5" y2="798.4" stroke="#262626" stroke-width="1.3"/>
<line x1="1527.5" y1="1249.5" x2="1527.5" y2="1239.5" stroke="#262626" stroke-width="1.3"/>
<line x1="1644.0" y1="788.4" x2="1644.0" y2="798.4" stroke="#262626" stroke-width="1.3"/>
<line x1="1644.0" y1="1249.5" x2="1644.0" y2="1239.5" stroke="#262626" stroke-width="1.3"/>
<line x1="1760.5" y1="788.4" x2="1760.5" y2="798.4" stroke="#262626" stroke-width="1.3"/>
<line x1="1760.5" y1="1249.5" x2="1760.5" y2="1239.5" stroke="#262626" stroke-width="1.3"/>
<line x1="1877.0" y1="788.4" x2="1877.0" y2="798.4" stroke="#262626" stroke-width="1.3"/>
<line x1="1877.0" y1="1249.5" x2="1877.0" y2="1239.5" stroke="#262626" stroke-width="1.3"/>
<line x1="1054.2" y1="1244.9" x2="1064.2" y2="1244.9" stroke="#262626" stroke-width="1.3"/>
<line x1="1993.4" y1="1244.9" x2="1983.4" y2="1244.9" stroke="#262626" stroke-width="1.3"/>
<line x1="1054.2" y1="1153.6" x2="1064.2" y2="1153.6" stroke="#262626" stroke-width="1.3"/>
<line x1="1993.4" y1="1153.6" x2="1983.4" y2="1153.6" stroke="#262626" stroke-width="1.3"/>
<line x1="1054.2" y1="1062.3" x2="1064.2" y2="1062.3" stroke="#262626" stroke-width="1.3"/>
<line x1="1993.4" y1="1062.3" x2="1983.4" y2="1062.3" stroke="#262626" stroke-width="1.3"/>
<line x1="1054.2" y1="971.0" x2="1064.2" y2="971.0" stroke="#262626" stroke-width="1.3"/>
<line x1="1993.4" y1="971.0" x2="1983.4" y2="971.0" stroke="#262626" stroke-width="1.3"/>
<line x1="1054.2" y1="879.7" x2="1064.2" y2="879.7" stroke="#262626" stroke-width="1.3"/>
<line x1="1993.4" y1="879.7" x2="1983.4" y2="879.7" stroke="#262626" stroke-width="1.3"/>
<line x1="1054.2" y1="788.4" x2="1064.2" y2="788.4" stroke="#262626" stroke-width="1.3"/>
<line x1="1993.4" y1="788.4" x2="1983.4" y2="788.4" stroke="#262626" stroke-width="1.3"/>
<rect x="1160.1" y="1223.0" width="9.6" height="9.6" fill="#EDB120" stroke="#000" stroke-width="1.45"/>
<rect x="1188.6" y="961.6" width="9.6" height="9.6" fill="#77AC30" stroke="#000" stroke-width="1.45"/>
<circle cx="1303.8" cy="1223.3" r="6.0" fill="#EDB120" stroke="#000" stroke-width="1.5"/>
<circle cx="1415.8" cy="956.2" r="6.0" fill="#77AC30" stroke="#000" stroke-width="1.5"/>
<line x1="1165.0" y1="780.0" x2="1165.0" y2="1227.8" stroke="#000" stroke-width="1.4" stroke-dasharray="11.5,6"/>
<line x1="1304.3" y1="780.0" x2="1304.3" y2="1223.3" stroke="#000" stroke-width="1.4" stroke-dasharray="11.5,6"/>
<line x1="1193.7" y1="771.7" x2="1193.7" y2="966.4" stroke="#000" stroke-width="1.4" stroke-dasharray="5.2,2.8"/>
<line x1="1416.0" y1="771.7" x2="1416.0" y2="956.2" stroke="#000" stroke-width="1.4" stroke-dasharray="5.2,2.8"/>
<line x1="1174.2" y1="780.0" x2="1295.1" y2="780.0" stroke="#EDB120" stroke-width="1.6"/>
<path d="M1165.0,780.0 L1175.2,775.1 L1175.2,784.9 Z" fill="#EDB120"/>
<path d="M1304.3,780.0 L1294.1,775.1 L1294.1,784.9 Z" fill="#EDB120"/>
<line x1="1202.9" y1="771.7" x2="1407.0" y2="771.7" stroke="#77AC30" stroke-width="1.6"/>
<path d="M1193.7,771.7 L1203.9,766.8 L1203.9,776.6 Z" fill="#77AC30"/>
<path d="M1416.2,771.7 L1406.0,766.8 L1406.0,776.6 Z" fill="#77AC30"/>
<rect x="1054.2" y="788.4" width="86.29999999999995" height="29.800000000000068" fill="#fff" stroke="#000" stroke-width="1.4"/>
<text x="1059.7" y="812.7" font-size="26.8" fill="#000">142°C</text>
<rect x="1712" y="1166.2" width="281.29999999999995" height="83.09999999999991" fill="#fff" stroke="#262626" stroke-width="1.5"/>
<circle cx="1749.5" cy="1187.7" r="10.8" fill="#fff" stroke="#000" stroke-width="1.5"/>
<rect x="1740.9" y="1218.4" width="17.2" height="17.2" fill="#dbd7cf" stroke="#000" stroke-width="1.5"/>
<text x="1786.6" y="1199.8" font-size="29.3" fill="#000">Low pre-stress</text>
<text x="1786.6" y="1238.8" font-size="29.3" fill="#000">High pre-stress</text>
<text x="1061.4" y="1288.6" font-size="34" text-anchor="middle" fill="#000">500</text>
<text x="1177.9" y="1288.6" font-size="34" text-anchor="middle" fill="#000">1000</text>
<text x="1294.4" y="1288.6" font-size="34" text-anchor="middle" fill="#000">1500</text>
<text x="1411.0" y="1288.6" font-size="34" text-anchor="middle" fill="#000">2000</text>
<text x="1527.5" y="1288.6" font-size="34" text-anchor="middle" fill="#000">2500</text>
<text x="1644.0" y="1288.6" font-size="34" text-anchor="middle" fill="#000">3000</text>
<text x="1760.5" y="1288.6" font-size="34" text-anchor="middle" fill="#000">3500</text>
<text x="1877.0" y="1288.6" font-size="34" text-anchor="middle" fill="#000">4000</text>
<text x="560.4" y="1321" font-size="33" text-anchor="middle" fill="#404040">Time (s)</text>
<text x="1523.7" y="1321" font-size="33" text-anchor="middle" fill="#404040">Time (s)</text>
<text transform="translate(27.4,1018.2) rotate(-90)" font-size="34.7" text-anchor="middle" fill="#404040">Conversion fraction <tspan font-family="'Liberation Serif', serif" font-style="italic">α</tspan></text>
<text x="-1.6" y="1320.2" font-size="36" letter-spacing="1" fill="#000">[i]</text>
<text x="1030.5" y="1320.2" font-size="36" letter-spacing="1.6" fill="#000">[j]</text>
</svg>
</body></html>
